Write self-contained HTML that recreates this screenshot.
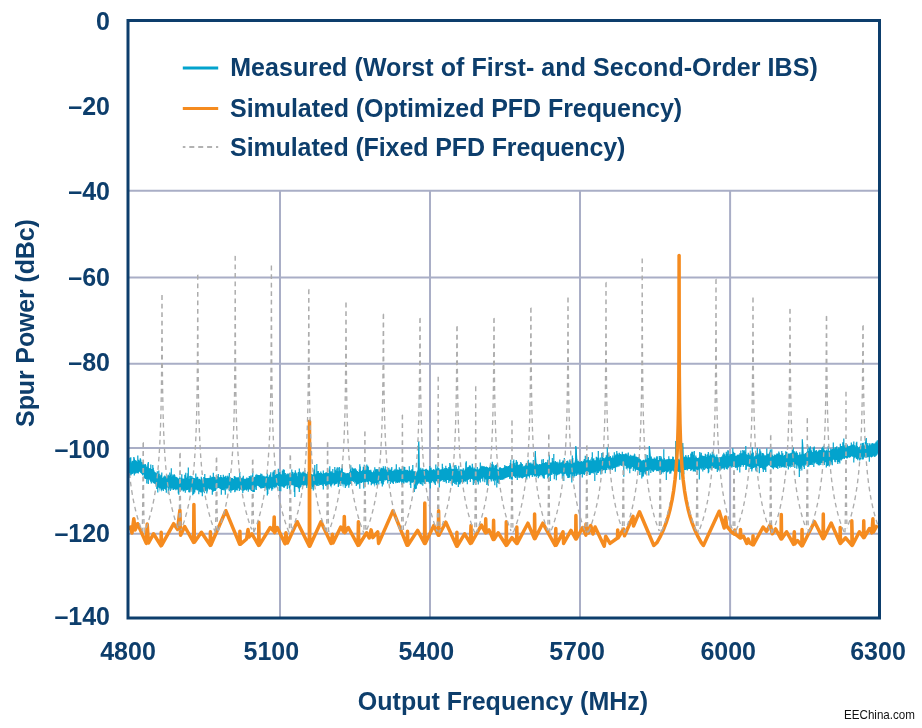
<!DOCTYPE html>
<html><head><meta charset="utf-8">
<style>
html,body{margin:0;padding:0;background:#fff;width:922px;height:728px;overflow:hidden}
svg{display:block;will-change:transform}
text{font-family:"Liberation Sans",sans-serif;font-weight:bold;fill:#0d3e6c}
</style></head><body>
<svg width="922" height="728" viewBox="0 0 922 728">
<g stroke="#a9aec6" stroke-width="2" fill="none">
<path d="M128 190.8H879.5M128 277.6H879.5M128 363.7H879.5M128 447.9H879.5M128 533.8H879.5M280 190.8V618M430 190.8V618M580 190.8V618M730.1 190.8V618"/>
</g>
<defs><clipPath id="gc"><path d="M128 20H670V528H688V20H880V620H128Z"/></clipPath></defs>
<g fill="none" stroke-linejoin="round">
<path d="M129.5 461.9 130.3 462.5 131.1 462.7 131.9 462.4 132.7 462.7 133.5 462.6 134.3 457.0 135.1 460.0 135.9 460.5 136.7 461.7 137.5 461.9 138.3 460.9 139.1 461.4 139.9 461.0 140.7 460.2 141.5 462.6 142.3 462.6 143.1 463.8 143.9 464.3 144.7 464.8 145.5 465.9 146.3 466.9 147.1 467.3 147.9 467.0 148.7 467.9 149.5 469.1 150.3 469.9 151.1 468.9 151.9 470.1 152.7 468.4 153.5 471.7 154.3 471.0 155.1 473.4 155.9 474.1 156.7 474.8 157.5 475.5 158.3 475.8 159.1 476.9 159.9 476.4 160.7 478.0 161.5 478.1 162.3 478.7 163.1 478.5 163.9 478.8 164.7 478.1 165.5 476.0 166.3 477.2 167.1 477.5 167.9 476.2 168.7 477.0 169.5 477.5 170.3 476.3 171.1 477.7 171.9 476.4 172.7 476.1 173.5 477.1 174.3 477.9 175.1 476.9 175.9 478.6 176.7 478.6 177.5 478.2 178.3 478.7 179.1 478.8 179.9 475.4 180.7 478.9 181.5 479.3 182.3 479.1 183.1 478.4 183.9 479.5 184.7 478.4 185.5 477.4 186.3 478.9 187.1 479.6 187.9 479.4 188.7 479.2 189.5 478.8 190.3 478.8 191.1 477.5 191.9 478.1 192.7 478.5 193.5 478.8 194.3 478.9 195.1 479.1 195.9 478.4 196.7 479.5 197.5 478.1 198.3 479.5 199.1 479.6 199.9 479.4 200.7 480.9 201.5 480.3 202.3 481.1 203.1 480.5 203.9 479.5 204.7 480.0 205.5 479.7 206.3 478.4 207.1 478.7 207.9 478.5 208.7 478.5 209.5 478.5 210.3 479.1 211.1 478.6 211.9 477.3 212.7 479.4 213.5 479.6 214.3 478.2 215.1 478.8 215.9 478.6 216.7 478.3 217.5 478.1 218.3 477.6 219.1 477.5 219.9 478.0 220.7 477.2 221.5 477.8 222.3 478.3 223.1 478.1 223.9 477.5 224.7 478.2 225.5 477.9 226.3 478.1 227.1 477.9 227.9 474.5 228.7 477.6 229.5 478.1 230.3 476.9 231.1 479.2 231.9 478.0 232.7 478.0 233.5 479.5 234.3 478.4 235.1 477.7 235.9 477.3 236.7 477.9 237.5 478.4 238.3 478.3 239.1 476.0 239.9 477.6 240.7 475.9 241.5 478.8 242.3 478.5 243.1 480.0 243.9 479.0 244.7 479.6 245.5 479.3 246.3 479.7 247.1 477.8 247.9 479.0 248.7 479.1 249.5 478.9 250.3 479.3 251.1 476.9 251.9 478.6 252.7 478.7 253.5 478.3 254.3 476.7 255.1 477.1 255.9 476.8 256.7 473.6 257.5 475.5 258.3 475.6 259.1 475.0 259.9 475.3 260.7 476.4 261.5 477.0 262.3 473.5 263.1 477.6 263.9 477.5 264.7 475.4 265.5 477.6 266.3 477.7 267.1 476.2 267.9 477.4 268.7 477.1 269.5 477.5 270.3 476.5 271.1 477.7 271.9 476.3 272.7 477.5 273.5 477.2 274.3 477.0 275.1 475.1 275.9 474.8 276.7 474.0 277.5 475.1 278.3 475.0 279.1 473.9 279.9 475.1 280.7 474.3 281.5 475.4 282.3 475.5 283.1 476.0 283.9 474.7 284.7 475.4 285.5 475.5 286.3 474.5 287.1 474.7 287.9 474.8 288.7 473.6 289.5 474.7 290.3 474.3 291.1 474.8 291.9 473.9 292.7 472.8 293.5 474.0 294.3 475.1 295.1 473.9 295.9 475.4 296.7 476.4 297.5 476.7 298.3 476.8 299.1 475.2 299.9 470.2 300.7 474.2 301.5 475.1 302.3 474.0 303.1 472.4 303.9 473.9 304.7 474.5 305.5 474.4 306.3 474.5 307.1 474.7 307.9 474.7 308.7 473.4 309.5 474.3 310.3 474.9 311.1 473.9 311.9 473.9 312.7 475.4 313.5 475.0 314.3 475.1 315.1 474.9 315.9 474.1 316.7 474.3 317.5 473.5 318.3 473.7 319.1 473.4 319.9 473.2 320.7 473.6 321.5 472.7 322.3 473.7 323.1 473.7 323.9 474.1 324.7 473.5 325.5 472.3 326.3 472.5 327.1 474.2 327.9 472.9 328.7 473.2 329.5 472.6 330.3 472.2 331.1 473.2 331.9 473.4 332.7 472.5 333.5 472.7 334.3 473.2 335.1 472.2 335.9 472.6 336.7 471.6 337.5 471.8 338.3 471.9 339.1 472.1 339.9 472.6 340.7 471.3 341.5 472.6 342.3 472.9 343.1 473.0 343.9 472.6 344.7 473.2 345.5 473.7 346.3 473.3 347.1 473.7 347.9 472.7 348.7 474.0 349.5 472.6 350.3 472.0 351.1 471.0 351.9 471.3 352.7 470.4 353.5 470.6 354.3 470.8 355.1 469.9 355.9 471.8 356.7 471.5 357.5 471.1 358.3 472.3 359.1 472.1 359.9 470.5 360.7 471.0 361.5 471.6 362.3 470.4 363.1 471.2 363.9 471.1 364.7 470.4 365.5 469.7 366.3 470.4 367.1 469.6 367.9 469.7 368.7 470.2 369.5 469.7 370.3 471.6 371.1 472.2 371.9 471.9 372.7 472.7 373.5 469.6 374.3 472.4 375.1 471.2 375.9 472.1 376.7 472.4 377.5 471.3 378.3 471.6 379.1 471.0 379.9 468.4 380.7 470.1 381.5 469.7 382.3 469.3 383.1 467.6 383.9 469.6 384.7 469.6 385.5 470.1 386.3 470.2 387.1 469.9 387.9 470.6 388.7 469.5 389.5 470.3 390.3 471.0 391.1 471.0 391.9 471.2 392.7 471.0 393.5 470.4 394.3 468.5 395.1 471.2 395.9 470.0 396.7 470.8 397.5 469.3 398.3 469.9 399.1 470.7 399.9 470.6 400.7 469.9 401.5 471.3 402.3 470.3 403.1 471.3 403.9 469.8 404.7 470.4 405.5 470.8 406.3 470.9 407.1 469.9 407.9 469.7 408.7 471.2 409.5 470.1 410.3 471.2 411.1 471.1 411.9 471.9 412.7 469.4 413.5 471.8 414.3 471.6 415.1 470.9 415.9 472.1 416.7 472.7 417.5 472.9 418.3 441.3 419.1 444.3 419.9 472.1 420.7 470.2 421.5 471.3 422.3 469.8 423.1 470.3 423.9 470.8 424.7 469.3 425.5 469.0 426.3 470.1 427.1 471.2 427.9 471.7 428.7 471.5 429.5 471.2 430.3 470.0 431.1 466.7 431.9 470.8 432.7 470.6 433.5 470.7 434.3 470.1 435.1 470.7 435.9 471.0 436.7 471.0 437.5 469.9 438.3 471.0 439.1 470.3 439.9 470.6 440.7 470.3 441.5 469.9 442.3 469.6 443.1 469.4 443.9 468.5 444.7 469.7 445.5 469.7 446.3 469.6 447.1 469.1 447.9 470.1 448.7 469.6 449.5 469.8 450.3 463.0 451.1 466.0 451.9 470.2 452.7 470.0 453.5 470.2 454.3 469.8 455.1 469.8 455.9 470.8 456.7 469.5 457.5 470.4 458.3 471.4 459.1 471.7 459.9 470.2 460.7 470.5 461.5 471.0 462.3 471.7 463.1 470.9 463.9 470.8 464.7 470.5 465.5 469.4 466.3 469.6 467.1 466.7 467.9 467.8 468.7 468.1 469.5 468.3 470.3 468.5 471.1 467.6 471.9 468.0 472.7 468.7 473.5 468.3 474.3 469.5 475.1 469.3 475.9 469.7 476.7 469.8 477.5 470.3 478.3 470.6 479.1 469.9 479.9 469.3 480.7 468.2 481.5 468.2 482.3 467.6 483.1 466.5 483.9 466.2 484.7 466.8 485.5 468.0 486.3 468.5 487.1 468.2 487.9 468.2 488.7 469.0 489.5 468.3 490.3 466.6 491.1 468.8 491.9 468.7 492.7 468.3 493.5 468.6 494.3 468.7 495.1 469.4 495.9 469.6 496.7 469.9 497.5 469.9 498.3 470.2 499.1 469.2 499.9 469.4 500.7 469.4 501.5 468.7 502.3 468.8 503.1 468.8 503.9 468.0 504.7 466.2 505.5 467.8 506.3 466.3 507.1 466.9 507.9 466.7 508.7 466.3 509.5 465.0 510.3 465.5 511.1 466.3 511.9 463.9 512.7 464.8 513.5 466.2 514.3 464.0 515.1 465.5 515.9 465.8 516.7 463.7 517.5 465.2 518.3 464.5 519.1 465.6 519.9 465.3 520.7 466.1 521.5 467.1 522.3 467.2 523.1 467.5 523.9 466.8 524.7 466.5 525.5 466.1 526.3 464.4 527.1 465.2 527.9 462.8 528.7 462.6 529.5 464.3 530.3 464.6 531.1 464.5 531.9 464.7 532.7 464.6 533.5 462.5 534.3 464.7 535.1 451.0 535.9 454.0 536.7 464.9 537.5 464.1 538.3 464.7 539.1 465.4 539.9 464.8 540.7 464.8 541.5 464.1 542.3 464.6 543.1 464.1 543.9 462.9 544.7 464.1 545.5 464.3 546.3 462.6 547.1 464.0 547.9 464.2 548.7 463.0 549.5 463.8 550.3 463.7 551.1 462.9 551.9 462.5 552.7 462.4 553.5 462.2 554.3 462.6 555.1 462.5 555.9 460.9 556.7 463.1 557.5 463.5 558.3 463.4 559.1 463.8 559.9 463.2 560.7 462.6 561.5 462.8 562.3 462.2 563.1 462.3 563.9 462.9 564.7 463.1 565.5 463.6 566.3 463.5 567.1 464.1 567.9 464.7 568.7 463.3 569.5 462.9 570.3 462.6 571.1 464.1 571.9 462.6 572.7 463.0 573.5 463.5 574.3 463.1 575.1 462.9 575.9 446.0 576.7 449.0 577.5 462.3 578.3 462.2 579.1 461.9 579.9 462.6 580.7 462.6 581.5 462.6 582.3 462.6 583.1 461.4 583.9 461.9 584.7 462.2 585.5 461.2 586.3 460.8 587.1 456.3 587.9 461.1 588.7 460.3 589.5 460.9 590.3 458.5 591.1 462.0 591.9 460.4 592.7 462.2 593.5 461.3 594.3 461.4 595.1 461.1 595.9 461.2 596.7 461.0 597.5 460.6 598.3 460.6 599.1 459.6 599.9 460.5 600.7 459.9 601.5 460.1 602.3 460.4 603.1 460.3 603.9 460.0 604.7 458.6 605.5 458.6 606.3 458.3 607.1 457.7 607.9 457.1 608.7 457.1 609.5 457.3 610.3 456.0 611.1 458.0 611.9 457.7 612.7 458.1 613.5 458.1 614.3 456.8 615.1 455.9 615.9 454.8 616.7 456.0 617.5 454.2 618.3 455.1 619.1 455.3 619.9 453.7 620.7 453.9 621.5 454.8 622.3 454.3 623.1 454.8 623.9 454.7 624.7 454.5 625.5 452.9 626.3 456.1 627.1 455.0 627.9 455.8 628.7 456.8 629.5 456.1 630.3 456.5 631.1 456.7 631.9 455.5 632.7 456.3 633.5 456.1 634.3 452.8 635.1 456.3 635.9 456.7 636.7 456.6 637.5 457.9 638.3 459.7 639.1 459.9 639.9 460.6 640.7 461.0 641.5 460.8 642.3 461.8 643.1 462.3 643.9 460.8 644.7 461.2 645.5 460.4 646.3 459.7 647.1 459.1 647.9 459.1 648.7 459.0 649.5 446.0 650.3 449.0 651.1 458.8 651.9 458.5 652.7 458.9 653.5 459.1 654.3 459.4 655.1 459.6 655.9 459.4 656.7 459.2 657.5 460.4 658.3 460.5 659.1 460.7 659.9 460.7 660.7 461.0 661.5 459.1 662.3 458.4 663.1 460.9 663.9 460.3 664.7 461.0 665.5 460.3 666.3 459.0 667.1 460.6 667.9 460.5 668.7 460.0 669.5 459.5 670.3 460.5 671.1 460.1 671.9 460.4 672.7 457.0 673.5 460.4 674.3 460.3 675.1 460.6 675.9 441.0 676.7 444.0 677.5 460.6 678.3 459.9 679.1 460.0 679.9 460.8 680.7 460.2 681.5 459.5 682.3 443.0 683.1 446.0 683.9 460.0 684.7 459.7 685.5 459.2 686.3 458.7 687.1 458.5 687.9 457.3 688.7 457.1 689.5 458.2 690.3 458.4 691.1 455.9 691.9 457.4 692.7 458.8 693.5 458.1 694.3 458.8 695.1 458.4 695.9 456.8 696.7 458.0 697.5 458.3 698.3 458.5 699.1 458.1 699.9 452.0 700.7 455.0 701.5 457.2 702.3 457.1 703.1 456.7 703.9 455.6 704.7 456.7 705.5 456.8 706.3 457.6 707.1 457.7 707.9 457.3 708.7 457.6 709.5 456.1 710.3 457.3 711.1 457.0 711.9 456.4 712.7 454.8 713.5 456.1 714.3 457.0 715.1 456.4 715.9 457.6 716.7 457.9 717.5 456.7 718.3 458.0 719.1 456.9 719.9 458.0 720.7 457.5 721.5 457.6 722.3 457.0 723.1 456.4 723.9 456.9 724.7 454.8 725.5 456.8 726.3 456.5 727.1 456.1 727.9 456.8 728.7 456.5 729.5 456.1 730.3 455.7 731.1 453.9 731.9 454.0 732.7 455.3 733.5 455.9 734.3 455.8 735.1 456.0 735.9 456.0 736.7 456.6 737.5 456.6 738.3 455.4 739.1 454.9 739.9 455.9 740.7 454.8 741.5 455.0 742.3 453.7 743.1 453.0 743.9 453.7 744.7 454.7 745.5 455.2 746.3 454.8 747.1 454.4 747.9 455.5 748.7 454.5 749.5 454.7 750.3 456.7 751.1 455.0 751.9 457.6 752.7 457.0 753.5 457.4 754.3 457.2 755.1 455.9 755.9 454.5 756.7 455.7 757.5 454.7 758.3 454.4 759.1 455.9 759.9 449.0 760.7 452.0 761.5 455.8 762.3 457.7 763.1 458.5 763.9 457.7 764.7 454.9 765.5 456.3 766.3 455.4 767.1 453.3 767.9 454.2 768.7 454.6 769.5 454.8 770.3 455.5 771.1 454.4 771.9 456.5 772.7 455.4 773.5 456.4 774.3 456.5 775.1 454.6 775.9 456.0 776.7 454.4 777.5 454.4 778.3 454.6 779.1 455.3 779.9 454.8 780.7 455.0 781.5 455.6 782.3 456.1 783.1 456.0 783.9 455.6 784.7 455.0 785.5 454.3 786.3 455.3 787.1 453.8 787.9 455.1 788.7 453.2 789.5 454.0 790.3 453.6 791.1 452.7 791.9 453.2 792.7 451.2 793.5 452.5 794.3 453.3 795.1 453.2 795.9 452.6 796.7 453.5 797.5 455.4 798.3 455.8 799.1 454.9 799.9 455.5 800.7 455.0 801.5 454.3 802.3 439.2 803.1 442.2 803.9 455.0 804.7 454.7 805.5 453.8 806.3 452.4 807.1 453.0 807.9 452.0 808.7 452.6 809.5 452.9 810.3 452.6 811.1 448.5 811.9 452.6 812.7 451.9 813.5 452.2 814.3 451.4 815.1 452.1 815.9 452.3 816.7 451.1 817.5 452.3 818.3 451.1 819.1 449.0 819.9 451.8 820.7 451.2 821.5 451.1 822.3 450.8 823.1 449.1 823.9 450.3 824.7 451.0 825.5 451.6 826.3 450.9 827.1 450.3 827.9 452.2 828.7 451.8 829.5 451.2 830.3 450.9 831.1 450.2 831.9 449.0 832.7 449.3 833.5 449.3 834.3 449.4 835.1 449.6 835.9 448.7 836.7 448.6 837.5 449.5 838.3 449.1 839.1 448.1 839.9 448.5 840.7 448.4 841.5 447.6 842.3 446.7 843.1 447.2 843.9 446.4 844.7 447.0 845.5 446.0 846.3 447.0 847.1 446.5 847.9 446.9 848.7 446.7 849.5 446.6 850.3 445.8 851.1 446.1 851.9 446.1 852.7 444.2 853.5 446.1 854.3 445.5 855.1 446.9 855.9 447.1 856.7 447.8 857.5 447.7 858.3 447.6 859.1 447.7 859.9 445.6 860.7 446.3 861.5 446.5 862.3 445.4 863.1 446.1 863.9 445.6 864.7 446.0 865.5 446.5 866.3 446.2 867.1 446.5 867.9 446.5 868.7 446.6 869.5 443.4 870.3 446.1 871.1 445.6 871.9 442.8 872.7 445.0 873.5 444.9 874.3 443.4 875.1 443.9 875.9 442.3 876.7 443.0 877.5 442.6 877.5 453.1 876.7 456.1 875.9 455.0 875.1 454.0 874.3 454.2 873.5 456.1 872.7 455.5 871.9 457.6 871.1 456.9 870.3 455.3 869.5 456.2 868.7 456.3 867.9 456.9 867.1 456.3 866.3 456.2 865.5 456.1 864.7 455.7 863.9 455.7 863.1 455.6 862.3 455.9 861.5 456.8 860.7 456.7 859.9 461.7 859.1 457.6 858.3 459.0 857.5 458.4 856.7 457.7 855.9 457.0 855.1 457.1 854.3 456.1 853.5 455.6 852.7 456.8 851.9 455.4 851.1 456.8 850.3 456.6 849.5 457.8 848.7 456.8 847.9 457.7 847.1 458.5 846.3 456.9 845.5 456.9 844.7 457.7 843.9 458.3 843.1 457.1 842.3 459.1 841.5 457.9 840.7 458.6 839.9 459.0 839.1 459.5 838.3 459.5 837.5 460.4 836.7 458.9 835.9 459.5 835.1 459.2 834.3 459.2 833.5 459.2 832.7 459.6 831.9 461.6 831.1 460.1 830.3 460.6 829.5 461.1 828.7 462.2 827.9 462.7 827.1 461.7 826.3 461.4 825.5 461.4 824.7 460.8 823.9 460.3 823.1 461.0 822.3 460.7 821.5 461.0 820.7 460.9 819.9 461.6 819.1 465.1 818.3 462.0 817.5 463.3 816.7 461.7 815.9 462.4 815.1 462.4 814.3 462.8 813.5 462.0 812.7 462.0 811.9 462.2 811.1 462.4 810.3 462.7 809.5 463.4 808.7 462.7 807.9 463.4 807.1 463.5 806.3 463.5 805.5 464.3 804.7 464.1 803.9 464.7 803.1 466.1 802.3 465.2 801.5 465.2 800.7 466.9 799.9 466.0 799.1 466.2 798.3 465.9 797.5 464.8 796.7 465.2 795.9 464.1 795.1 463.3 794.3 463.4 793.5 462.2 792.7 463.6 791.9 462.5 791.1 465.5 790.3 468.3 789.5 466.6 788.7 466.6 787.9 465.0 787.1 466.3 786.3 465.8 785.5 465.9 784.7 467.1 783.9 467.8 783.1 466.6 782.3 466.8 781.5 467.7 780.7 465.5 779.9 466.0 779.1 464.6 778.3 464.5 777.5 464.5 776.7 465.0 775.9 466.2 775.1 466.1 774.3 467.0 773.5 466.7 772.7 467.5 771.9 468.3 771.1 466.5 770.3 465.9 769.5 465.7 768.7 464.5 767.9 466.1 767.1 465.6 766.3 465.4 765.5 467.1 764.7 467.2 763.9 467.6 763.1 469.2 762.3 467.6 761.5 467.0 760.7 467.4 759.9 466.7 759.1 466.6 758.3 465.9 757.5 466.0 756.7 465.2 755.9 466.1 755.1 466.8 754.3 467.6 753.5 467.5 752.7 467.9 751.9 467.0 751.1 466.8 750.3 466.5 749.5 467.8 748.7 465.8 747.9 465.4 747.1 465.8 746.3 464.8 745.5 464.5 744.7 464.4 743.9 464.6 743.1 464.3 742.3 464.5 741.5 465.0 740.7 466.0 739.9 465.2 739.1 467.3 738.3 466.1 737.5 466.1 736.7 468.0 735.9 466.4 735.1 466.0 734.3 466.0 733.5 465.5 732.7 465.7 731.9 466.5 731.1 466.3 730.3 465.8 729.5 465.8 728.7 468.6 727.9 466.8 727.1 468.2 726.3 466.6 725.5 467.1 724.7 467.4 723.9 468.0 723.1 466.6 722.3 466.9 721.5 467.3 720.7 467.5 719.9 472.7 719.1 468.0 718.3 468.8 717.5 468.4 716.7 467.4 715.9 468.5 715.1 466.9 714.3 466.5 713.5 466.8 712.7 466.7 711.9 469.7 711.1 466.5 710.3 466.9 709.5 467.0 708.7 467.2 707.9 467.6 707.1 468.2 706.3 467.2 705.5 469.7 704.7 467.1 703.9 466.8 703.1 468.5 702.3 467.2 701.5 467.2 700.7 466.9 699.9 467.7 699.1 469.9 698.3 468.2 697.5 468.9 696.7 468.9 695.9 468.0 695.1 469.1 694.3 469.1 693.5 468.1 692.7 468.2 691.9 469.4 691.1 468.1 690.3 468.1 689.5 468.1 688.7 467.8 687.9 468.2 687.1 468.6 686.3 468.9 685.5 468.7 684.7 469.8 683.9 469.8 683.1 470.2 682.3 472.4 681.5 470.6 680.7 470.2 679.9 470.8 679.1 471.5 678.3 472.1 677.5 470.9 676.7 470.2 675.9 472.0 675.1 470.0 674.3 470.1 673.5 470.1 672.7 470.5 671.9 469.8 671.1 470.0 670.3 470.3 669.5 470.0 668.7 470.4 667.9 472.7 667.1 471.8 666.3 472.5 665.5 470.7 664.7 472.0 663.9 470.9 663.1 474.2 662.3 470.7 661.5 470.9 660.7 470.9 659.9 471.0 659.1 470.8 658.3 470.1 657.5 470.5 656.7 471.5 655.9 470.4 655.1 469.6 654.3 469.2 653.5 471.0 652.7 468.8 651.9 469.1 651.1 468.8 650.3 469.5 649.5 468.9 648.7 469.6 647.9 470.1 647.1 470.5 646.3 469.7 645.5 473.4 644.7 472.1 643.9 471.6 643.1 474.0 642.3 471.9 641.5 471.3 640.7 472.4 639.9 471.1 639.1 469.8 638.3 471.0 637.5 470.0 636.7 468.3 635.9 468.2 635.1 467.9 634.3 468.5 633.5 467.4 632.7 466.9 631.9 466.4 631.1 469.2 630.3 468.4 629.5 466.2 628.7 466.3 627.9 466.4 627.1 471.2 626.3 465.7 625.5 465.6 624.7 465.3 623.9 464.9 623.1 464.5 622.3 466.5 621.5 464.4 620.7 465.1 619.9 464.7 619.1 465.3 618.3 464.9 617.5 467.5 616.7 465.5 615.9 466.6 615.1 467.2 614.3 467.0 613.5 468.8 612.7 467.8 611.9 467.7 611.1 467.7 610.3 471.9 609.5 467.5 608.7 470.3 607.9 467.4 607.1 467.3 606.3 467.7 605.5 468.7 604.7 468.9 603.9 470.2 603.1 470.2 602.3 471.3 601.5 470.4 600.7 470.6 599.9 469.9 599.1 470.8 598.3 470.3 597.5 470.1 596.7 470.8 595.9 471.1 595.1 472.5 594.3 472.0 593.5 471.7 592.7 472.0 591.9 472.9 591.1 471.5 590.3 471.3 589.5 470.8 588.7 471.8 587.9 470.6 587.1 471.0 586.3 471.3 585.5 471.4 584.7 472.3 583.9 473.8 583.1 472.5 582.3 472.4 581.5 472.7 580.7 472.5 579.9 473.0 579.1 472.3 578.3 472.1 577.5 471.9 576.7 472.2 575.9 473.2 575.1 473.2 574.3 472.8 573.5 473.2 572.7 473.1 571.9 473.6 571.1 473.5 570.3 474.2 569.5 474.0 568.7 474.2 567.9 474.4 567.1 473.8 566.3 475.5 565.5 473.4 564.7 473.0 563.9 472.7 563.1 475.8 562.3 473.4 561.5 473.7 560.7 473.0 559.9 473.6 559.1 473.1 558.3 473.1 557.5 474.8 556.7 476.3 555.9 476.3 555.1 473.9 554.3 472.7 553.5 472.4 552.7 472.5 551.9 472.7 551.1 473.9 550.3 475.0 549.5 473.2 548.7 473.7 547.9 474.2 547.1 474.1 546.3 474.5 545.5 473.8 544.7 474.6 543.9 474.7 543.1 474.0 542.3 474.9 541.5 474.9 540.7 475.3 539.9 474.7 539.1 475.3 538.3 475.6 537.5 475.9 536.7 475.2 535.9 475.2 535.1 475.1 534.3 474.9 533.5 474.5 532.7 475.5 531.9 474.5 531.1 475.1 530.3 474.4 529.5 479.0 528.7 475.9 527.9 476.6 527.1 475.0 526.3 475.5 525.5 475.9 524.7 476.2 523.9 476.8 523.1 477.8 522.3 476.8 521.5 477.9 520.7 477.4 519.9 475.8 519.1 478.4 518.3 475.6 517.5 477.6 516.7 475.2 515.9 475.4 515.1 475.6 514.3 475.6 513.5 476.1 512.7 476.9 511.9 475.7 511.1 476.8 510.3 477.1 509.5 477.9 508.7 476.5 507.9 477.3 507.1 477.5 506.3 477.6 505.5 477.4 504.7 478.0 503.9 478.1 503.1 478.4 502.3 478.7 501.5 479.1 500.7 479.0 499.9 480.6 499.1 480.0 498.3 480.5 497.5 481.1 496.7 479.3 495.9 480.0 495.1 479.4 494.3 479.3 493.5 478.8 492.7 478.6 491.9 478.9 491.1 480.0 490.3 478.9 489.5 478.9 488.7 478.7 487.9 478.9 487.1 478.0 486.3 478.0 485.5 477.8 484.7 477.3 483.9 476.9 483.1 476.9 482.3 480.1 481.5 477.5 480.7 480.2 479.9 479.0 479.1 479.9 478.3 480.4 477.5 482.5 476.7 479.8 475.9 479.6 475.1 479.3 474.3 479.2 473.5 479.3 472.7 480.0 471.9 478.4 471.1 478.8 470.3 478.2 469.5 478.9 468.7 479.8 467.9 479.8 467.1 478.7 466.3 479.1 465.5 481.1 464.7 480.9 463.9 480.5 463.1 481.9 462.3 481.1 461.5 481.7 460.7 481.7 459.9 481.3 459.1 481.3 458.3 482.1 457.5 481.3 456.7 481.8 455.9 481.4 455.1 485.1 454.3 480.3 453.5 479.8 452.7 482.3 451.9 479.7 451.1 479.6 450.3 480.1 449.5 479.5 448.7 479.9 447.9 479.4 447.1 479.6 446.3 479.2 445.5 479.3 444.7 479.2 443.9 479.5 443.1 480.3 442.3 479.0 441.5 480.1 440.7 481.0 439.9 482.6 439.1 480.5 438.3 480.7 437.5 482.9 436.7 481.4 435.9 480.6 435.1 480.6 434.3 481.0 433.5 482.8 432.7 480.3 431.9 480.3 431.1 481.0 430.3 480.8 429.5 481.0 428.7 481.3 427.9 481.3 427.1 481.0 426.3 481.6 425.5 482.7 424.7 482.3 423.9 480.4 423.1 480.0 422.3 482.0 421.5 481.5 420.7 481.3 419.9 481.8 419.1 482.1 418.3 482.7 417.5 485.9 416.7 483.8 415.9 484.6 415.1 482.3 414.3 481.9 413.5 481.5 412.7 483.1 411.9 481.2 411.1 481.6 410.3 481.1 409.5 481.5 408.7 481.0 407.9 480.9 407.1 483.3 406.3 482.5 405.5 481.5 404.7 481.2 403.9 481.2 403.1 481.4 402.3 481.2 401.5 481.6 400.7 480.7 399.9 480.8 399.1 481.2 398.3 480.7 397.5 480.6 396.7 480.9 395.9 481.0 395.1 481.8 394.3 480.8 393.5 481.7 392.7 480.9 391.9 482.8 391.1 481.5 390.3 480.7 389.5 480.8 388.7 480.8 387.9 481.0 387.1 480.0 386.3 479.8 385.5 480.0 384.7 479.4 383.9 479.7 383.1 482.3 382.3 480.0 381.5 479.8 380.7 479.9 379.9 480.6 379.1 480.8 378.3 481.6 377.5 482.3 376.7 483.1 375.9 483.4 375.1 482.4 374.3 487.3 373.5 483.0 372.7 483.0 371.9 483.4 371.1 481.8 370.3 481.5 369.5 480.5 368.7 480.2 367.9 480.1 367.1 480.0 366.3 481.4 365.5 482.6 364.7 483.2 363.9 480.9 363.1 481.1 362.3 481.9 361.5 481.8 360.7 481.7 359.9 482.7 359.1 482.4 358.3 484.8 357.5 482.8 356.7 482.1 355.9 482.6 355.1 481.5 354.3 480.5 353.5 480.6 352.7 480.0 351.9 481.0 351.1 481.7 350.3 482.4 349.5 483.7 348.7 484.1 347.9 485.9 347.1 484.1 346.3 484.7 345.5 484.8 344.7 485.4 343.9 483.1 343.1 487.9 342.3 483.6 341.5 482.8 340.7 483.9 339.9 482.7 339.1 482.1 338.3 482.4 337.5 481.6 336.7 481.8 335.9 482.5 335.1 482.5 334.3 484.6 333.5 483.1 332.7 483.4 331.9 484.1 331.1 488.2 330.3 484.1 329.5 484.1 328.7 483.5 327.9 483.7 327.1 483.9 326.3 484.6 325.5 485.6 324.7 483.6 323.9 483.7 323.1 483.9 322.3 483.8 321.5 485.1 320.7 484.9 319.9 484.8 319.1 484.3 318.3 483.1 317.5 485.7 316.7 486.3 315.9 484.6 315.1 485.2 314.3 485.1 313.5 485.1 312.7 485.9 311.9 485.7 311.1 485.0 310.3 484.7 309.5 484.7 308.7 484.5 307.9 485.0 307.1 484.1 306.3 484.5 305.5 483.9 304.7 485.3 303.9 483.9 303.1 484.8 302.3 485.3 301.5 484.9 300.7 484.9 299.9 489.6 299.1 486.4 298.3 488.7 297.5 486.1 296.7 486.2 295.9 486.2 295.1 486.5 294.3 485.0 293.5 485.4 292.7 485.3 291.9 485.3 291.1 484.8 290.3 486.8 289.5 485.5 288.7 485.2 287.9 484.5 287.1 484.9 286.3 485.0 285.5 484.8 284.7 486.5 283.9 487.7 283.1 486.8 282.3 486.5 281.5 485.2 280.7 485.0 279.9 485.3 279.1 485.1 278.3 484.8 277.5 484.7 276.7 488.1 275.9 486.0 275.1 487.3 274.3 486.4 273.5 486.9 272.7 487.6 271.9 487.2 271.1 488.3 270.3 487.5 269.5 487.7 268.7 487.2 267.9 487.7 267.1 487.4 266.3 487.7 265.5 487.9 264.7 487.8 263.9 487.4 263.1 487.9 262.3 487.9 261.5 486.5 260.7 488.7 259.9 487.1 259.1 485.7 258.3 486.1 257.5 485.6 256.7 485.8 255.9 486.2 255.1 487.5 254.3 487.6 253.5 488.8 252.7 490.5 251.9 489.3 251.1 488.7 250.3 489.0 249.5 488.8 248.7 489.2 247.9 489.0 247.1 489.4 246.3 490.9 245.5 489.1 244.7 490.2 243.9 489.4 243.1 489.8 242.3 490.7 241.5 490.2 240.7 489.5 239.9 488.5 239.1 489.0 238.3 487.9 237.5 488.4 236.7 488.0 235.9 492.2 235.1 490.1 234.3 488.8 233.5 489.5 232.7 490.1 231.9 491.3 231.1 490.0 230.3 488.6 229.5 488.3 228.7 487.6 227.9 487.7 227.1 487.5 226.3 488.3 225.5 488.0 224.7 489.0 223.9 487.9 223.1 487.9 222.3 490.0 221.5 488.6 220.7 489.0 219.9 489.0 219.1 487.3 218.3 487.6 217.5 487.4 216.7 487.7 215.9 488.3 215.1 489.2 214.3 489.6 213.5 492.0 212.7 489.0 211.9 488.9 211.1 489.5 210.3 488.5 209.5 489.3 208.7 488.3 207.9 488.2 207.1 491.2 206.3 488.9 205.5 489.5 204.7 493.8 203.9 491.9 203.1 490.7 202.3 490.7 201.5 490.9 200.7 492.6 199.9 490.1 199.1 490.5 198.3 489.5 197.5 489.7 196.7 489.0 195.9 489.1 195.1 490.3 194.3 490.1 193.5 488.2 192.7 488.1 191.9 489.6 191.1 488.3 190.3 489.2 189.5 488.7 188.7 489.2 187.9 489.0 187.1 490.1 186.3 490.6 185.5 489.6 184.7 489.0 183.9 490.5 183.1 489.7 182.3 489.3 181.5 488.8 180.7 490.0 179.9 488.9 179.1 489.4 178.3 489.3 177.5 489.2 176.7 488.5 175.9 488.2 175.1 488.5 174.3 488.1 173.5 487.4 172.7 488.3 171.9 487.3 171.1 488.0 170.3 487.0 169.5 486.8 168.7 488.1 167.9 486.9 167.1 487.9 166.3 487.6 165.5 490.0 164.7 488.7 163.9 488.3 163.1 489.3 162.3 489.5 161.5 491.9 160.7 487.9 159.9 491.9 159.1 487.0 158.3 485.8 157.5 487.0 156.7 484.7 155.9 486.5 155.1 483.2 154.3 483.0 153.5 482.3 152.7 482.2 151.9 480.4 151.1 481.7 150.3 481.2 149.5 479.9 148.7 478.3 147.9 478.4 147.1 477.2 146.3 477.3 145.5 476.0 144.7 477.1 143.9 474.1 143.1 473.1 142.3 476.3 141.5 472.7 140.7 471.8 139.9 471.5 139.1 471.3 138.3 471.5 137.5 473.5 136.7 471.5 135.9 474.1 135.1 472.5 134.3 474.2 133.5 472.2 132.7 473.1 131.9 474.6 131.1 474.4 130.3 474.7 129.5 473.3Z" fill="#03a3cd" stroke="none"/>
<path d="M129.8 457.7V473.5M130.3 463.8V473.8M130.8 457.2V475.4M131.3 462.6V473.0M131.8 463.4V474.0M132.3 461.1V473.4M132.8 460.7V473.8M133.3 463.0V472.6M133.8 457.0V472.0M134.3 462.2V475.4M134.8 460.9V472.3M135.3 461.1V472.2M135.8 460.5V473.4M136.3 460.8V472.0M136.8 462.1V472.6M137.3 462.0V473.1M137.8 455.6V472.0M138.3 461.4V473.6M138.8 459.8V471.7M139.3 460.7V471.4M139.8 460.8V471.6M140.3 458.2V472.2M140.8 459.6V473.1M141.3 462.0V473.2M141.8 462.6V473.8M142.3 462.7V474.0M142.8 462.2V475.0M143.3 463.6V473.8M143.8 464.5V474.3M144.3 464.8V478.2M144.8 465.0V475.4M145.3 463.9V478.9M145.8 465.1V476.0M146.3 466.7V479.0M146.8 466.8V483.5M147.3 466.6V478.7M147.8 463.5V479.6M148.3 462.1V484.1M148.8 468.3V478.5M149.3 468.3V479.0M149.8 468.4V479.1M150.3 468.0V479.6M150.8 464.6V481.8M151.3 470.2V483.4M151.8 468.9V480.6M152.3 471.3V480.9M152.8 465.0V481.7M153.3 467.8V483.2M153.8 470.2V482.4M154.3 472.1V482.9M154.8 472.7V483.9M155.3 472.3V483.5M155.8 472.8V483.4M156.3 473.6V483.7M156.8 473.2V489.0M157.3 471.3V485.0M157.8 474.4V492.6M158.3 474.1V486.4M158.8 470.6V487.4M159.3 473.8V487.7M159.8 476.2V488.0M160.3 476.4V487.7M160.8 474.8V488.1M161.3 477.8V487.6M161.8 472.6V487.9M162.3 478.7V489.3M162.8 478.1V488.4M163.3 477.4V491.1M163.8 476.6V489.1M164.3 478.5V488.5M164.8 475.6V488.5M165.3 476.8V489.5M165.8 477.1V487.6M166.3 477.0V492.7M166.8 477.6V487.1M167.3 477.6V487.0M167.8 475.5V486.9M168.3 474.7V493.8M168.8 476.0V487.1M169.3 477.6V487.4M169.8 472.4V489.4M170.3 476.5V490.9M170.8 474.6V488.0M171.3 468.2V487.3M171.8 477.7V489.5M172.3 477.3V488.3M172.8 474.5V487.2M173.3 475.2V490.1M173.8 476.2V489.7M174.3 474.3V488.8M174.8 475.3V489.0M175.3 477.9V488.4M175.8 476.7V490.2M176.3 477.1V489.6M176.8 478.5V489.4M177.3 477.6V488.7M177.8 479.1V489.6M178.3 478.8V493.4M178.8 478.6V494.7M179.3 479.1V490.8M179.8 477.9V491.5M180.3 479.3V490.9M180.8 479.1V489.0M181.3 477.8V489.7M181.8 474.3V490.4M182.3 479.5V488.9M182.8 478.5V489.4M183.3 478.7V491.6M183.8 479.5V490.5M184.3 479.2V489.3M184.8 474.8V490.8M185.3 479.3V492.7M185.8 472.7V489.0M186.3 478.0V489.1M186.8 479.2V489.2M187.3 476.4V490.1M187.8 473.3V489.6M188.3 467.6V489.4M188.8 479.0V492.2M189.3 479.3V490.3M189.8 476.0V492.6M190.3 475.7V491.5M190.8 478.7V489.5M191.3 478.8V489.7M191.8 476.1V489.3M192.3 478.1V488.4M192.8 477.5V495.3M193.3 477.9V488.4M193.8 477.9V493.9M194.3 478.1V491.9M194.8 478.8V492.5M195.3 479.2V489.2M195.8 473.6V489.5M196.3 479.7V488.9M196.8 477.6V489.8M197.3 476.8V490.5M197.8 477.3V490.1M198.3 479.6V489.9M198.8 479.4V494.3M199.3 478.8V490.9M199.8 479.0V491.8M200.3 479.9V490.6M200.8 480.3V492.3M201.3 476.8V492.6M201.8 478.2V491.9M202.3 480.4V496.2M202.8 480.7V491.5M203.3 479.8V490.8M203.8 477.1V491.5M204.3 479.8V492.5M204.8 474.1V489.7M205.3 479.7V491.0M205.8 477.9V489.2M206.3 479.4V489.0M206.8 478.3V493.5M207.3 478.9V491.6M207.8 478.1V488.4M208.3 478.3V488.3M208.8 478.6V488.2M209.3 477.7V489.4M209.8 478.2V489.5M210.3 475.4V488.9M210.8 479.1V488.6M211.3 478.3V489.5M211.8 476.7V490.0M212.3 477.0V494.7M212.8 477.6V492.1M213.3 472.7V491.1M213.8 477.8V490.8M214.3 476.8V490.2M214.8 476.9V491.0M215.3 477.4V491.1M215.8 478.6V490.3M216.3 478.3V488.5M216.8 476.7V488.5M217.3 476.6V488.3M217.8 476.1V487.8M218.3 473.9V488.0M218.8 477.3V488.1M219.3 477.6V488.0M219.8 477.7V488.3M220.3 477.0V488.6M220.8 475.0V488.6M221.3 477.9V494.7M221.8 477.1V488.6M222.3 478.4V490.0M222.8 478.3V488.6M223.3 474.7V490.2M223.8 478.4V488.2M224.3 476.8V489.4M224.8 476.8V490.6M225.3 476.6V494.7M225.8 475.7V488.1M226.3 478.0V487.6M226.8 477.8V489.4M227.3 476.3V488.6M227.8 477.8V487.3M228.3 477.7V487.8M228.8 476.5V487.6M229.3 473.0V491.3M229.8 478.5V488.3M230.3 478.9V489.9M230.8 477.7V492.8M231.3 478.9V490.2M231.8 477.9V489.0M232.3 479.3V489.0M232.8 478.9V489.4M233.3 479.7V490.0M233.8 479.3V489.1M234.3 476.2V489.6M234.8 476.0V492.2M235.3 478.1V490.0M235.8 477.3V490.1M236.3 477.8V488.8M236.8 477.5V490.1M237.3 478.1V490.4M237.8 477.3V487.7M238.3 478.4V488.3M238.8 478.6V487.8M239.3 476.9V490.9M239.8 471.9V488.2M240.3 477.7V489.6M240.8 478.9V488.8M241.3 478.4V489.7M241.8 478.3V489.1M242.3 479.4V489.4M242.8 477.3V493.0M243.3 475.7V490.3M243.8 479.1V490.8M244.3 478.7V489.8M244.8 478.7V489.2M245.3 479.2V489.5M245.8 478.8V489.1M246.3 479.4V490.2M246.8 477.6V489.0M247.3 479.7V489.4M247.8 479.7V489.3M248.3 477.9V491.7M248.8 478.9V490.1M249.3 475.9V489.1M249.8 477.4V488.9M250.3 476.9V489.3M250.8 475.6V490.0M251.3 478.7V490.9M251.8 476.8V488.4M252.3 475.3V491.2M252.8 471.1V491.8M253.3 478.7V492.1M253.8 478.3V489.4M254.3 477.8V492.0M254.8 476.9V487.0M255.3 476.8V486.7M255.8 474.8V489.5M256.3 476.5V490.0M256.8 475.9V485.7M257.3 474.8V485.3M257.8 475.2V485.0M258.3 474.9V485.5M258.8 475.4V485.9M259.3 475.8V487.2M259.8 475.9V487.2M260.3 475.1V486.1M260.8 473.5V488.2M261.3 474.0V487.2M261.8 477.0V488.4M262.3 477.0V487.0M262.8 476.2V487.6M263.3 475.8V487.9M263.8 476.8V487.1M264.3 477.6V487.6M264.8 477.9V487.7M265.3 477.7V488.1M265.8 476.5V487.3M266.3 476.2V487.3M266.8 477.1V489.8M267.3 473.5V495.5M267.8 477.6V493.9M268.3 477.2V488.6M268.8 476.8V487.2M269.3 475.3V489.4M269.8 475.9V487.9M270.3 474.3V487.5M270.8 472.3V487.3M271.3 477.2V488.7M271.8 477.2V490.7M272.3 477.2V487.7M272.8 472.5V489.3M273.3 471.6V487.3M273.8 476.3V487.0M274.3 470.1V486.5M274.8 475.7V488.3M275.3 475.6V487.3M275.8 474.5V485.5M276.3 475.2V486.1M276.8 474.1V485.1M277.3 475.1V484.7M277.8 473.9V484.6M278.3 468.7V486.1M278.8 473.9V484.8M279.3 473.1V491.1M279.8 471.9V486.2M280.3 474.9V485.4M280.8 474.2V491.2M281.3 475.1V485.4M281.8 474.5V486.5M282.3 470.5V486.6M282.8 475.8V485.8M283.3 469.3V485.8M283.8 474.0V487.5M284.3 469.7V487.7M284.8 475.3V485.4M285.3 473.0V486.2M285.8 474.9V485.5M286.3 475.1V485.5M286.8 474.3V485.1M287.3 473.6V489.0M287.8 475.0V484.9M288.3 474.7V484.5M288.8 475.0V485.4M289.3 473.1V487.9M289.8 474.6V489.7M290.3 473.2V485.9M290.8 474.1V484.5M291.3 474.3V484.3M291.8 469.4V484.8M292.3 474.7V484.7M292.8 472.0V485.0M293.3 474.7V485.1M293.8 474.8V485.3M294.3 472.7V492.0M294.8 473.9V497.1M295.3 470.2V485.4M295.8 472.2V486.8M296.3 475.6V486.9M296.8 473.2V486.3M297.3 476.5V487.0M297.8 476.3V486.6M298.3 471.9V488.2M298.8 474.8V486.5M299.3 468.5V492.0M299.8 475.6V485.9M300.3 473.4V487.6M300.8 472.3V487.0M301.3 473.4V485.6M301.8 473.2V484.9M302.3 474.0V484.7M302.8 472.1V484.2M303.3 471.4V485.1M303.8 473.1V486.1M304.3 472.7V485.0M304.8 470.1V485.1M305.3 474.4V484.0M305.8 473.2V484.7M306.3 473.9V486.0M306.8 474.5V488.1M307.3 474.2V484.4M307.8 471.8V484.6M308.3 474.7V486.3M308.8 473.5V488.8M309.3 473.6V484.6M309.8 474.6V484.9M310.3 475.2V495.3M310.8 474.1V484.9M311.3 474.1V485.5M311.8 475.5V489.0M312.3 474.5V486.6M312.8 474.8V487.2M313.3 474.9V490.5M313.8 469.5V485.1M314.3 471.4V486.2M314.8 465.1V484.7M315.3 474.8V484.4M315.8 474.7V484.1M316.3 473.5V485.3M316.8 463.9V483.8M317.3 471.2V485.8M317.8 472.4V483.6M318.3 471.1V483.2M318.8 472.7V485.9M319.3 472.9V485.0M319.8 473.7V483.4M320.3 473.8V483.7M320.8 471.6V484.5M321.3 473.4V484.0M321.8 474.0V483.5M322.3 474.0V484.4M322.8 474.1V485.9M323.3 470.6V489.5M323.8 473.2V484.4M324.3 473.3V484.2M324.8 473.3V484.0M325.3 473.4V483.5M325.8 474.1V486.0M326.3 473.2V483.4M326.8 472.1V485.6M327.3 472.7V487.0M327.8 473.7V488.8M328.3 474.2V484.1M328.8 473.4V484.6M329.3 469.6V483.9M329.8 466.3V484.3M330.3 472.6V484.5M330.8 471.5V486.2M331.3 471.3V484.5M331.8 473.7V484.9M332.3 472.4V483.4M332.8 469.1V483.5M333.3 473.1V483.2M333.8 472.9V483.3M334.3 472.9V485.5M334.8 467.1V484.8M335.3 469.8V482.9M335.8 472.2V484.1M336.3 470.7V482.5M336.8 468.4V483.7M337.3 467.3V482.4M337.8 472.1V482.1M338.3 471.2V487.1M338.8 467.8V485.7M339.3 466.9V481.7M339.8 472.3V484.0M340.3 470.5V483.1M340.8 472.8V486.0M341.3 467.9V482.8M341.8 470.7V483.6M342.3 464.5V482.7M342.8 473.1V483.7M343.3 472.0V483.6M343.8 473.3V483.8M344.3 472.6V483.2M344.8 472.5V484.1M345.3 473.7V487.9M345.8 473.6V483.7M346.3 474.3V486.2M346.8 474.1V483.8M347.3 473.0V483.8M347.8 474.3V484.7M348.3 474.4V484.8M348.8 472.9V487.8M349.3 472.8V485.3M349.8 472.1V483.8M350.3 469.4V483.9M350.8 465.2V482.4M351.3 471.2V483.3M351.8 471.0V481.0M352.3 467.4V481.1M352.8 470.5V480.0M353.3 468.4V482.0M353.8 470.1V480.2M354.3 468.5V480.5M354.8 471.0V483.6M355.3 468.2V482.1M355.8 471.6V481.9M356.3 469.6V486.1M356.8 472.1V482.0M357.3 470.9V484.6M357.8 472.2V482.8M358.3 472.0V483.7M358.8 471.9V483.0M359.3 469.6V482.4M359.8 464.2V488.7M360.3 466.6V482.1M360.8 471.8V482.5M361.3 471.6V482.9M361.8 470.9V482.7M362.3 470.6V481.9M362.8 469.8V481.3M363.3 466.7V481.7M363.8 470.6V488.6M364.3 464.7V480.7M364.8 468.8V481.7M365.3 469.5V482.1M365.8 469.7V482.3M366.3 470.1V480.3M366.8 464.6V480.2M367.3 469.9V482.1M367.8 465.8V481.6M368.3 466.9V484.6M368.8 470.4V481.0M369.3 470.4V480.6M369.8 470.5V481.2M370.3 471.4V482.1M370.8 469.7V481.7M371.3 471.4V485.2M371.8 471.9V484.0M372.3 472.9V482.4M372.8 473.3V483.5M373.3 472.5V483.1M373.8 472.6V483.6M374.3 472.9V482.4M374.8 467.2V482.8M375.3 469.9V482.9M375.8 469.3V482.2M376.3 471.3V485.3M376.8 468.9V483.9M377.3 472.1V483.5M377.8 469.3V481.3M378.3 470.7V481.7M378.8 470.8V484.6M379.3 466.9V480.6M379.8 470.9V480.5M380.3 470.7V481.0M380.8 468.4V480.9M381.3 467.7V483.5M381.8 469.1V481.5M382.3 468.6V486.5M382.8 468.3V481.7M383.3 466.3V484.4M383.8 468.2V481.9M384.3 469.7V480.3M384.8 469.6V480.3M385.3 466.3V480.4M385.8 468.9V479.9M386.3 469.7V479.8M386.8 470.6V480.1M387.3 470.8V480.4M387.8 471.0V483.5M388.3 469.9V481.2M388.8 467.7V481.0M389.3 469.5V480.7M389.8 471.0V480.8M390.3 469.7V483.9M390.8 471.4V480.9M391.3 468.5V481.1M391.8 467.1V481.3M392.3 471.5V482.4M392.8 471.3V482.9M393.3 471.7V484.0M393.8 471.5V482.1M394.3 470.8V481.2M394.8 470.5V480.9M395.3 471.0V480.5M395.8 468.7V483.2M396.3 464.2V482.1M396.8 470.9V480.6M397.3 470.3V482.9M397.8 469.8V482.4M398.3 470.8V482.2M398.8 470.3V481.3M399.3 467.3V482.8M399.8 470.3V482.0M400.3 469.5V480.7M400.8 468.8V480.9M401.3 470.0V481.7M401.8 468.8V484.7M402.3 471.3V481.1M402.8 471.9V482.0M403.3 471.9V483.1M403.8 466.4V483.7M404.3 471.6V481.1M404.8 466.9V481.0M405.3 470.9V482.5M405.8 470.1V481.2M406.3 469.7V481.5M406.8 471.2V481.4M407.3 470.7V480.6M407.8 470.9V482.3M408.3 471.1V480.5M408.8 470.9V480.9M409.3 466.2V481.3M409.8 470.3V481.2M410.3 470.5V485.1M410.8 470.5V488.1M411.3 471.4V482.8M411.8 469.2V482.7M412.3 471.2V481.3M412.8 465.0V482.4M413.3 471.2V482.1M413.8 471.6V481.6M414.3 472.0V491.9M414.8 471.6V481.8M415.3 472.7V489.2M415.8 472.6V482.2M416.3 472.6V488.7M416.8 472.6V484.1M417.3 471.6V482.5M417.8 470.6V483.8M418.3 472.8V483.2M418.8 441.3V483.6M419.3 471.5V481.8M419.8 469.4V482.5M420.3 471.9V484.1M420.8 467.8V481.0M421.3 469.7V484.6M421.8 469.4V482.1M422.3 470.2V480.2M422.8 468.2V485.8M423.3 469.6V482.2M423.8 470.3V482.6M424.3 470.9V482.6M424.8 470.2V483.9M425.3 470.3V483.1M425.8 470.3V481.2M426.3 468.7V481.7M426.8 471.0V481.7M427.3 469.7V481.5M427.8 470.3V481.7M428.3 471.1V481.6M428.8 471.2V482.0M429.3 469.5V483.5M429.8 465.9V481.6M430.3 468.4V488.4M430.8 468.1V483.0M431.3 470.4V481.0M431.8 470.2V482.6M432.3 470.6V480.4M432.8 469.7V481.1M433.3 470.7V480.5M433.8 468.9V481.4M434.3 470.3V483.5M434.8 470.9V481.0M435.3 470.6V484.9M435.8 464.4V481.1M436.3 468.4V480.6M436.8 470.1V480.9M437.3 468.5V481.3M437.8 466.3V481.8M438.3 471.0V481.0M438.8 468.1V480.8M439.3 470.4V487.5M439.8 469.5V480.5M440.3 470.2V480.8M440.8 469.6V480.2M441.3 469.2V480.8M441.8 469.4V479.9M442.3 463.8V479.9M442.8 467.2V478.9M443.3 469.4V481.7M443.8 469.5V479.2M444.3 469.7V479.9M444.8 467.9V482.0M445.3 469.4V480.9M445.8 465.8V480.3M446.3 468.4V483.2M446.8 468.0V479.3M447.3 469.8V480.0M447.8 468.7V480.1M448.3 470.1V479.7M448.8 467.0V483.0M449.3 468.7V481.6M449.8 463.0V480.5M450.3 470.0V480.9M450.8 468.9V480.6M451.3 469.1V482.8M451.8 469.2V484.3M452.3 469.8V485.7M452.8 468.7V481.1M453.3 469.0V482.9M453.8 469.3V481.8M454.3 465.3V480.0M454.8 468.7V483.9M455.3 468.7V480.5M455.8 464.9V481.5M456.3 466.7V484.7M456.8 469.8V481.1M457.3 468.8V481.7M457.8 471.5V481.5M458.3 471.2V486.9M458.8 465.8V482.0M459.3 471.5V483.9M459.8 471.4V484.5M460.3 469.3V483.4M460.8 469.9V482.4M461.3 471.5V482.1M461.8 469.3V481.3M462.3 469.9V481.4M462.8 471.3V482.0M463.3 468.2V481.8M463.8 470.9V482.6M464.3 470.7V480.8M464.8 470.4V480.4M465.3 468.8V481.5M465.8 462.4V481.8M466.3 461.2V479.8M466.8 469.3V480.6M467.3 468.9V484.2M467.8 467.9V479.9M468.3 466.9V478.6M468.8 467.7V478.8M469.3 465.8V478.1M469.8 465.2V478.5M470.3 465.7V482.1M470.8 467.3V478.2M471.3 468.9V478.5M471.8 468.7V479.1M472.3 463.7V478.5M472.8 466.7V478.5M473.3 468.7V485.0M473.8 468.7V478.6M474.3 469.2V480.9M474.8 467.5V483.3M475.3 469.4V479.1M475.8 468.8V484.8M476.3 469.7V480.1M476.8 470.1V481.1M477.3 467.0V479.9M477.8 469.7V481.5M478.3 469.9V484.5M478.8 469.3V480.3M479.3 468.6V479.5M479.8 469.1V481.3M480.3 462.6V482.4M480.8 468.6V478.9M481.3 466.8V478.6M481.8 465.8V477.7M482.3 466.3V477.3M482.8 466.3V481.4M483.3 467.2V476.9M483.8 467.5V477.2M484.3 466.4V478.4M484.8 467.8V482.3M485.3 467.0V477.6M485.8 468.0V479.6M486.3 466.4V479.0M486.8 468.1V485.1M487.3 466.9V484.3M487.8 468.9V480.3M488.3 468.0V485.7M488.8 468.3V478.8M489.3 467.0V479.0M489.8 467.2V478.6M490.3 465.4V479.2M490.8 467.6V478.6M491.3 468.8V481.6M491.8 464.0V478.5M492.3 461.7V478.5M492.8 464.6V479.6M493.3 464.4V481.3M493.8 468.8V478.7M494.3 467.7V480.1M494.8 466.1V485.3M495.3 465.1V480.8M495.8 465.6V479.1M496.3 469.7V479.2M496.8 464.2V487.6M497.3 469.1V483.1M497.8 470.1V482.3M498.3 469.9V480.7M498.8 469.4V483.8M499.3 467.5V479.3M499.8 467.6V479.4M500.3 467.2V480.1M500.8 468.9V479.3M501.3 468.1V479.3M501.8 468.9V480.0M502.3 469.1V479.7M502.8 467.9V479.2M503.3 468.6V478.4M503.8 468.0V479.5M504.3 467.0V478.6M504.8 465.1V477.6M505.3 467.1V478.2M505.8 466.2V477.8M506.3 466.1V477.4M506.8 467.3V476.7M507.3 467.2V476.7M507.8 466.3V476.4M508.3 465.9V476.3M508.8 466.5V477.1M509.3 466.5V476.1M509.8 465.8V479.0M510.3 462.9V477.6M510.8 459.7V477.2M511.3 466.4V479.6M511.8 464.4V476.5M512.3 463.9V479.8M512.8 465.9V475.9M513.3 461.1V475.7M513.8 459.4V475.4M514.3 462.9V476.2M514.8 466.0V477.1M515.3 465.5V477.7M515.8 462.5V478.0M516.3 460.1V476.4M516.8 465.4V476.0M517.3 461.8V480.1M517.8 465.7V475.5M518.3 465.9V475.5M518.8 465.3V477.8M519.3 465.2V477.1M519.8 464.2V477.8M520.3 466.4V476.6M520.8 461.9V476.1M521.3 462.9V477.4M521.8 464.3V477.7M522.3 464.0V478.4M522.8 466.9V477.7M523.3 467.4V477.3M523.8 465.8V476.8M524.3 466.8V477.1M524.8 466.4V476.8M525.3 465.4V476.2M525.8 464.5V476.7M526.3 463.1V478.2M526.8 464.8V479.6M527.3 463.6V475.7M527.8 461.0V476.3M528.3 459.8V474.3M528.8 463.0V474.6M529.3 462.8V475.3M529.8 463.7V474.3M530.3 463.4V474.3M530.8 462.6V475.3M531.3 463.5V475.0M531.8 464.6V474.8M532.3 464.7V476.9M532.8 463.6V475.2M533.3 459.9V474.7M533.8 463.5V474.9M534.3 465.0V476.6M534.8 462.4V476.2M535.3 451.0V474.9M535.8 463.5V475.7M536.3 463.6V477.3M536.8 463.7V474.6M537.3 465.5V475.1M537.8 465.5V475.5M538.3 464.7V478.2M538.8 465.0V476.2M539.3 464.3V474.8M539.8 463.9V476.6M540.3 465.1V474.6M540.8 464.8V474.7M541.3 463.9V474.4M541.8 459.4V475.2M542.3 464.5V476.4M542.8 463.0V476.3M543.3 459.1V478.3M543.8 464.3V474.6M544.3 463.1V478.8M544.8 463.9V474.9M545.3 462.6V474.7M545.8 461.9V474.6M546.3 464.3V474.0M546.8 462.5V474.3M547.3 463.9V474.1M547.8 459.7V478.4M548.3 464.3V477.2M548.8 463.2V474.2M549.3 454.8V475.7M549.8 463.9V473.3M550.3 462.6V480.9M550.8 463.1V474.6M551.3 462.5V473.0M551.8 463.1V474.9M552.3 458.0V472.6M552.8 462.8V472.5M553.3 461.3V474.0M553.8 454.0V473.5M554.3 462.8V479.3M554.8 462.7V473.2M555.3 461.1V473.6M555.8 463.5V473.1M556.3 461.9V480.2M556.8 463.2V475.2M557.3 463.3V474.4M557.8 461.8V474.7M558.3 463.8V473.8M558.8 463.7V474.5M559.3 462.5V474.2M559.8 459.6V473.5M560.3 463.3V473.5M560.8 462.7V472.9M561.3 463.4V473.0M561.8 462.3V473.2M562.3 462.5V478.7M562.8 460.6V473.1M563.3 460.4V473.6M563.8 462.0V481.0M564.3 458.0V473.9M564.8 462.3V473.8M565.3 463.3V473.2M565.8 463.1V473.2M566.3 463.1V473.6M566.8 461.1V475.5M567.3 461.9V476.3M567.8 460.5V478.1M568.3 462.2V474.5M568.8 464.4V478.0M569.3 463.8V474.4M569.8 459.5V477.5M570.3 460.7V474.3M570.8 464.2V474.2M571.3 463.3V473.9M571.8 462.4V482.6M572.3 455.4V478.2M572.8 458.1V474.2M573.3 463.4V473.0M573.8 462.7V477.7M574.3 462.5V474.4M574.8 463.1V476.2M575.3 460.6V472.6M575.8 446.0V473.5M576.3 461.8V475.9M576.8 459.0V473.0M577.3 461.9V474.8M577.8 461.2V472.7M578.3 460.7V473.2M578.8 462.1V474.5M579.3 462.1V474.7M579.8 461.8V472.7M580.3 462.0V474.8M580.8 462.6V473.1M581.3 461.0V473.9M581.8 462.5V472.5M582.3 461.7V477.4M582.8 462.8V473.3M583.3 460.8V474.0M583.8 460.8V474.3M584.3 459.0V475.1M584.8 461.1V473.9M585.3 455.8V471.4M585.8 461.8V471.2M586.3 460.5V472.3M586.8 460.6V471.7M587.3 460.5V474.1M587.8 460.0V470.8M588.3 457.1V471.2M588.8 459.9V472.2M589.3 460.7V475.1M589.8 460.6V472.1M590.3 460.8V474.7M590.8 461.9V471.2M591.3 461.0V473.3M591.8 457.3V472.5M592.3 452.3V472.2M592.8 459.1V473.0M593.3 461.4V473.4M593.8 458.3V471.7M594.3 461.0V472.0M594.8 460.2V481.0M595.3 460.3V472.4M595.8 461.1V470.7M596.3 456.7V471.3M596.8 459.3V475.1M597.3 457.5V472.9M597.8 460.4V470.1M598.3 450.9V473.1M598.8 458.2V470.6M599.3 460.4V471.5M599.8 460.5V470.4M600.3 457.4V470.5M600.8 460.1V474.6M601.3 460.4V473.0M601.8 453.1V473.8M602.3 460.1V470.9M602.8 452.4V470.0M603.3 457.9V469.7M603.8 458.3V469.9M604.3 458.6V469.7M604.8 459.0V469.8M605.3 457.4V473.2M605.8 457.3V470.2M606.3 455.2V469.9M606.8 457.7V470.1M607.3 447.3V468.2M607.8 455.7V467.0M608.3 453.6V467.2M608.8 455.0V467.2M609.3 456.2V468.1M609.8 456.7V469.9M610.3 456.1V469.1M610.8 458.0V467.7M611.3 458.2V467.8M611.8 457.8V469.2M612.3 457.5V469.9M612.8 455.5V468.3M613.3 458.1V467.8M613.8 457.8V467.4M614.3 452.2V468.0M614.8 455.9V467.0M615.3 456.1V471.8M615.8 454.5V466.3M616.3 455.1V467.3M616.8 450.9V466.4M617.3 455.7V465.3M617.8 453.4V465.6M618.3 455.4V465.5M618.8 455.4V466.8M619.3 452.8V465.8M619.8 455.1V465.3M620.3 454.5V465.3M620.8 454.7V464.4M621.3 454.8V465.9M621.8 454.6V465.1M622.3 451.8V465.1M622.8 453.9V464.6M623.3 454.4V465.6M623.8 454.3V476.7M624.3 454.8V464.7M624.8 455.2V465.6M625.3 453.8V465.1M625.8 454.6V466.0M626.3 455.1V468.7M626.8 453.6V466.6M627.3 456.4V465.8M627.8 455.6V467.9M628.3 452.5V466.2M628.8 456.5V467.4M629.3 456.9V468.9M629.8 456.7V473.2M630.3 454.8V467.4M630.8 456.9V468.5M631.3 456.9V467.6M631.8 455.4V466.8M632.3 457.1V466.7M632.8 457.0V466.8M633.3 455.7V470.9M633.8 456.3V468.0M634.3 457.8V467.3M634.8 454.2V469.2M635.3 458.0V471.6M635.8 457.6V469.1M636.3 457.6V469.8M636.8 458.8V469.1M637.3 458.1V469.9M637.8 457.1V469.7M638.3 456.9V469.8M638.8 459.9V470.0M639.3 457.8V471.0M639.8 460.1V475.1M640.3 459.3V471.2M640.8 460.2V471.9M641.3 461.5V471.2M641.8 461.5V478.6M642.3 460.6V476.8M642.8 462.2V472.2M643.3 460.0V476.4M643.8 459.7V473.4M644.3 460.9V472.0M644.8 460.6V471.3M645.3 459.6V474.5M645.8 454.2V470.6M646.3 460.2V471.2M646.8 459.9V470.2M647.3 454.9V471.1M647.8 458.1V469.7M648.3 458.6V468.7M648.8 458.1V475.5M649.3 446.0V470.5M649.8 459.0V468.9M650.3 458.8V468.8M650.8 459.1V473.0M651.3 456.5V469.6M651.8 459.3V470.5M652.3 458.8V470.5M652.8 458.9V471.2M653.3 458.8V471.9M653.8 459.5V469.9M654.3 457.4V470.4M654.8 459.0V469.4M655.3 459.5V469.3M655.8 458.5V469.6M656.3 457.6V469.6M656.8 456.2V470.1M657.3 456.4V471.0M657.8 460.4V470.1M658.3 460.3V471.3M658.8 460.1V470.3M659.3 456.0V470.2M659.8 459.7V473.3M660.3 458.3V472.8M660.8 455.9V470.7M661.3 457.3V474.2M661.8 459.0V470.9M662.3 460.9V472.3M662.8 460.7V471.9M663.3 459.8V471.6M663.8 449.2V471.1M664.3 458.1V471.9M664.8 459.5V470.9M665.3 459.4V470.4M665.8 459.7V470.9M666.3 459.7V479.9M666.8 460.6V472.2M667.3 459.3V470.4M667.8 460.6V471.0M668.3 459.0V471.4M668.8 456.2V470.3M669.3 460.3V469.9M669.8 458.7V473.7M670.3 459.4V471.1M670.8 460.1V473.6M671.3 458.9V471.5M671.8 460.3V470.9M672.3 459.3V470.0M672.8 456.6V469.6M673.3 457.1V470.7M673.8 459.8V471.5M674.3 459.5V471.7M674.8 459.4V470.5M675.3 460.7V474.0M675.8 441.0V475.9M676.3 458.6V473.8M676.8 460.1V470.5M677.3 460.9V471.2M677.8 458.7V470.6M678.3 459.1V470.9M678.8 460.1V471.8M679.3 459.5V470.7M679.8 459.8V479.7M680.3 458.2V470.8M680.8 458.8V472.4M681.3 460.7V470.7M681.8 459.0V470.5M682.3 460.3V472.7M682.8 443.0V470.2M683.3 459.0V471.0M683.8 457.7V474.3M684.3 456.8V470.1M684.8 458.9V470.0M685.3 456.5V470.1M685.8 455.1V470.0M686.3 458.2V468.6M686.8 456.5V469.3M687.3 458.2V470.5M687.8 458.1V469.3M688.3 454.9V468.7M688.8 456.9V469.1M689.3 457.4V467.7M689.8 457.6V468.9M690.3 458.4V468.7M690.8 453.6V471.0M691.3 458.2V467.8M691.8 451.8V469.9M692.3 458.1V469.1M692.8 451.8V468.3M693.3 454.8V471.4M693.8 458.7V469.4M694.3 451.1V471.3M694.8 458.3V469.8M695.3 457.8V471.8M695.8 455.5V469.1M696.3 457.2V469.1M696.8 458.6V470.0M697.3 458.1V470.2M697.8 458.5V470.4M698.3 458.5V468.6M698.8 457.4V469.5M699.3 457.6V479.6M699.8 452.0V468.5M700.3 456.9V468.5M700.8 457.4V468.4M701.3 452.8V469.4M701.8 457.0V467.7M702.3 455.6V466.8M702.8 456.3V471.4M703.3 456.7V469.4M703.8 456.1V467.2M704.3 456.4V470.0M704.8 457.4V466.7M705.3 453.7V466.8M705.8 454.6V467.0M706.3 457.2V467.9M706.8 457.0V467.7M707.3 455.2V468.9M707.8 454.1V467.5M708.3 452.1V473.2M708.8 456.9V472.2M709.3 455.6V467.7M709.8 455.5V468.4M710.3 453.5V468.3M710.8 456.5V467.1M711.3 455.3V470.1M711.8 454.7V466.6M712.3 451.7V466.2M712.8 456.1V466.9M713.3 455.5V468.1M713.8 453.5V466.3M714.3 456.0V467.2M714.8 455.5V468.5M715.3 457.1V466.8M715.8 457.1V468.9M716.3 457.8V468.2M716.8 454.5V468.6M717.3 458.1V471.9M717.8 457.7V469.4M718.3 457.7V467.8M718.8 457.8V470.4M719.3 458.2V469.6M719.8 457.3V467.7M720.3 457.3V467.8M720.8 457.6V470.1M721.3 457.1V467.0M721.8 456.5V468.7M722.3 456.7V467.2M722.8 454.5V468.4M723.3 457.1V468.3M723.8 452.7V466.6M724.3 455.9V469.8M724.8 454.3V467.4M725.3 455.7V467.1M725.8 456.2V467.6M726.3 451.7V468.9M726.8 453.7V468.1M727.3 453.7V469.6M727.8 450.2V466.1M728.3 450.6V467.2M728.8 456.3V466.2M729.3 456.1V466.2M729.8 454.2V466.2M730.3 454.2V465.5M730.8 456.0V466.2M731.3 454.6V466.4M731.8 454.1V467.8M732.3 455.8V466.3M732.8 448.2V465.5M733.3 451.8V467.1M733.8 452.4V467.0M734.3 455.8V465.8M734.8 452.9V466.2M735.3 455.7V467.2M735.8 456.3V468.0M736.3 455.7V465.8M736.8 456.3V465.9M737.3 454.8V470.2M737.8 455.9V467.6M738.3 454.5V467.0M738.8 455.8V466.1M739.3 455.1V465.6M739.8 453.2V472.4M740.3 454.9V465.1M740.8 450.4V467.0M741.3 454.4V465.3M741.8 453.2V465.0M742.3 454.6V464.5M742.8 450.1V464.9M743.3 451.6V466.7M743.8 450.9V464.8M744.3 450.2V465.1M744.8 453.3V464.8M745.3 451.7V464.8M745.8 446.0V470.0M746.3 454.3V469.5M746.8 455.3V464.8M747.3 454.8V466.2M747.8 455.5V465.3M748.3 452.8V466.8M748.8 455.2V465.9M749.3 455.6V465.7M749.8 454.4V467.0M750.3 453.8V466.6M750.8 453.2V469.1M751.3 453.7V466.9M751.8 456.3V471.4M752.3 447.6V469.2M752.8 456.4V467.3M753.3 452.5V468.0M753.8 457.4V468.0M754.3 457.0V466.9M754.8 456.2V466.9M755.3 455.7V467.1M755.8 454.4V470.5M756.3 453.1V471.5M756.8 455.0V469.0M757.3 448.0V465.5M757.8 455.0V464.6M758.3 455.3V465.4M758.8 453.4V466.3M759.3 454.2V473.3M759.8 449.0V467.4M760.3 456.4V468.0M760.8 451.6V468.1M761.3 457.4V467.2M761.8 455.7V467.8M762.3 453.1V467.8M762.8 458.3V469.3M763.3 453.2V472.0M763.8 454.6V468.9M764.3 456.3V467.4M764.8 456.7V470.0M765.3 455.3V468.4M765.8 456.3V471.9M766.3 455.9V466.6M766.8 448.4V466.8M767.3 454.4V465.2M767.8 454.9V465.5M768.3 454.4V464.4M768.8 453.9V464.8M769.3 453.0V464.9M769.8 451.7V465.0M770.3 449.4V465.4M770.8 456.3V467.0M771.3 456.1V466.5M771.8 449.2V467.1M772.3 454.8V466.8M772.8 456.8V468.1M773.3 456.3V469.2M773.8 456.9V467.4M774.3 454.4V466.3M774.8 455.4V467.5M775.3 456.2V467.1M775.8 454.8V465.7M776.3 455.7V468.1M776.8 453.6V468.0M777.3 454.0V464.9M777.8 453.5V469.1M778.3 454.7V464.7M778.8 451.4V465.9M779.3 452.7V466.4M779.8 454.9V467.9M780.3 454.7V465.2M780.8 455.9V465.9M781.3 455.2V467.3M781.8 451.1V467.2M782.3 456.1V466.6M782.8 453.2V466.5M783.3 456.5V466.3M783.8 456.3V465.8M784.3 455.4V465.5M784.8 455.1V467.4M785.3 455.0V466.7M785.8 451.2V466.9M786.3 455.3V467.8M786.8 451.9V465.1M787.3 454.5V465.1M787.8 455.2V466.0M788.3 453.8V469.5M788.8 454.1V465.9M789.3 453.5V464.0M789.8 453.8V464.2M790.3 454.0V463.6M790.8 453.5V463.2M791.3 452.8V464.4M791.8 453.1V467.1M792.3 449.5V463.6M792.8 452.0V464.9M793.3 447.5V466.5M793.8 453.0V463.2M794.3 451.3V464.4M794.8 453.5V468.1M795.3 453.7V463.5M795.8 452.4V464.2M796.3 451.2V464.4M796.8 453.3V468.7M797.3 452.8V465.3M797.8 455.6V465.0M798.3 455.6V466.5M798.8 454.8V468.6M799.3 455.2V477.0M799.8 452.2V471.1M800.3 454.3V469.0M800.8 455.4V467.5M801.3 455.4V467.0M801.8 454.5V470.5M802.3 439.2V465.4M802.8 454.7V465.3M803.3 454.7V464.9M803.8 454.0V466.9M804.3 454.2V469.0M804.8 454.6V464.6M805.3 452.9V464.6M805.8 453.7V465.6M806.3 453.4V463.4M806.8 452.0V463.7M807.3 451.4V464.1M807.8 445.6V467.0M808.3 452.5V462.5M808.8 450.9V466.6M809.3 447.7V462.6M809.8 452.5V465.1M810.3 446.3V464.3M810.8 452.9V465.1M811.3 450.5V464.3M811.8 452.2V464.5M812.3 452.6V465.0M812.8 452.3V462.1M813.3 447.6V462.5M813.8 452.1V466.9M814.3 446.6V461.9M814.8 452.1V463.4M815.3 450.7V461.9M815.8 451.4V462.0M816.3 449.9V462.4M816.8 452.1V464.0M817.3 451.7V464.2M817.8 451.7V462.2M818.3 450.9V465.2M818.8 450.8V463.8M819.3 451.4V465.6M819.8 450.0V463.6M820.3 451.3V461.8M820.8 450.0V465.0M821.3 451.3V461.5M821.8 448.1V463.0M822.3 449.6V461.6M822.8 446.7V463.1M823.3 450.8V461.1M823.8 445.7V460.3M824.3 450.9V465.0M824.8 450.2V462.4M825.3 451.5V462.0M825.8 451.3V461.0M826.3 450.6V467.5M826.8 449.6V463.5M827.3 451.3V465.9M827.8 451.4V462.2M828.3 446.1V465.5M828.8 451.6V463.9M829.3 451.6V466.6M829.8 450.7V461.0M830.3 450.4V462.5M830.8 448.5V464.6M831.3 450.6V461.2M831.8 450.2V462.2M832.3 448.9V465.3M832.8 448.9V459.1M833.3 442.6V459.5M833.8 449.2V459.2M834.3 448.5V459.9M834.8 448.9V461.8M835.3 447.3V462.3M835.8 449.2V459.5M836.3 447.1V460.1M836.8 446.3V459.0M837.3 449.4V462.2M837.8 449.4V464.0M838.3 448.4V459.8M838.8 447.3V461.9M839.3 448.6V458.4M839.8 448.7V463.6M840.3 443.8V458.5M840.8 447.2V459.7M841.3 446.0V460.6M841.8 447.3V457.8M842.3 446.2V459.2M842.8 442.2V457.8M843.3 446.8V457.2M843.8 438.5V458.8M844.3 446.6V459.0M844.8 446.7V457.7M845.3 445.0V457.7M845.8 445.9V457.4M846.3 447.3V456.9M846.8 447.1V458.4M847.3 444.5V457.4M847.8 447.0V456.6M848.3 446.8V457.3M848.8 446.1V456.5M849.3 446.1V457.6M849.8 446.1V456.7M850.3 445.6V457.2M850.8 446.1V456.4M851.3 442.4V456.1M851.8 446.1V455.5M852.3 445.0V456.0M852.8 445.2V456.7M853.3 444.3V455.3M853.8 441.6V462.5M854.3 445.7V458.2M854.8 445.2V457.1M855.3 446.5V457.2M855.8 447.3V457.6M856.3 442.8V458.6M856.8 441.8V459.0M857.3 446.1V459.1M857.8 448.2V460.3M858.3 448.2V458.1M858.8 447.5V458.3M859.3 447.3V458.3M859.8 446.9V460.3M860.3 447.0V457.2M860.8 443.4V459.2M861.3 446.8V456.2M861.8 446.4V456.3M862.3 443.0V459.5M862.8 445.2V459.4M863.3 442.8V459.3M863.8 445.7V457.0M864.3 445.5V457.5M864.8 445.5V455.8M865.3 442.0V456.0M865.8 438.7V457.8M866.3 437.9V456.0M866.8 445.6V457.5M867.3 444.8V456.1M867.8 442.9V457.3M868.3 445.9V456.7M868.8 445.4V456.0M869.3 445.8V461.7M869.8 443.2V456.6M870.3 444.6V456.7M870.8 445.4V455.8M871.3 445.4V457.3M871.8 443.7V457.1M872.3 443.4V456.3M872.8 442.9V456.6M873.3 444.0V454.8M873.8 444.6V454.1M874.3 443.5V456.5M874.8 443.9V456.9M875.3 444.0V456.2M875.8 442.6V455.4M876.3 441.6V453.6M876.8 443.9V454.9M877.3 440.2V453.7M877.8 443.5V453.0" stroke="#03a3cd" stroke-width="1.2"/>
<path d="M129.50 530.0 130.50 527.0 132.00 533.0 133.80 518.8 135.20 530.0 137.60 523.7 146.30 543.4 147.20 524.0 148.50 543.0 153.50 533.8 161.00 545.8 161.20 532.3 161.60 545.3 173.70 523.7 177.60 529.5 179.90 510.2 180.60 535.2 184.70 526.5 193.60 542.3 193.90 504.5 194.40 542.3 201.40 532.3 210.20 545.3 210.40 531.8 210.80 545.3 225.80 510.7 239.70 544.3 239.90 531.3 240.30 544.3 246.60 539.0 248.00 529.4 249.00 537.0 251.90 533.8 258.60 545.3 258.80 522.2 259.20 545.3 270.20 527.5 273.60 531.0 274.20 516.9 274.60 532.8 277.30 527.5 285.00 543.8 285.90 532.8 287.40 543.0 297.20 521.7 309.30 546.2 309.50 421.3 309.80 546.2 321.00 521.7 331.10 543.4 332.40 534.2 333.00 543.0 340.75 527.0 343.80 532.0 344.30 516.4 344.80 532.8 348.30 527.5 358.00 545.3 358.40 521.7 358.80 545.3 366.60 532.8 369.20 538.0 371.10 529.9 372.80 537.6 377.70 531.8 378.60 543.4 393.00 510.7 407.00 545.3 407.50 531.3 407.90 545.3 417.60 530.4 424.50 543.4 424.80 503.0 425.20 543.4 433.80 525.6 438.30 535.2 438.60 510.7 439.00 535.2 445.80 522.2 456.70 546.2 456.90 532.3 457.30 546.2 464.60 533.8 470.30 543.4 471.00 525.6 471.50 543.0 481.40 525.1 485.40 532.8 485.70 518.8 486.10 532.8 489.00 529.9 493.20 539.5 493.60 520.3 494.00 539.5 498.10 532.8 506.10 545.3 506.30 521.7 506.70 545.3 512.00 537.6 516.60 543.4 516.80 527.0 517.20 543.4 527.90 523.2 534.40 538.6 534.60 514.0 535.00 538.6 542.80 523.2 555.10 545.3 555.80 528.5 556.20 545.3 559.60 538.6 563.00 531.8 563.60 543.4 571.00 530.4 575.70 539.0 575.90 515.5 576.30 539.0 582.60 527.5 585.80 535.2 586.00 524.1 588.50 533.0 590.80 525.6 593.00 534.0 595.10 527.0 604.20 546.2 605.70 536.2 610.00 543.4 617.50 538.0 617.70 529.9 618.00 538.0 623.50 529.0 624.50 535.7 633.00 516.4 633.50 526.0 639.50 511.8 653.80 545.5 657.10 542.4 660.10 536.9 663.10 530.6 666.10 522.9 668.10 516.7 670.10 509.2 672.10 499.9 673.60 491.0 675.10 479.2 676.10 468.5 677.10 453.5 677.70 440.2 678.20 423.9 678.60 402.1 678.85 376.4 679.00 342.6 679.10 255.4 679.20 342.6 679.35 376.4 679.60 402.1 680.00 423.9 680.50 440.2 681.10 453.5 682.10 468.5 683.10 479.2 684.60 491.0 686.10 499.9 688.10 509.2 690.10 516.7 692.10 522.9 695.10 530.6 698.10 536.9 701.10 542.4 703.40 545.5 719.20 511.2 724.20 528.0 725.60 516.9 726.60 526.0 731.90 532.3 734.60 534.2 734.80 529.9 735.20 534.2 740.30 538.0 740.50 529.4 740.90 538.0 743.40 536.0 746.80 543.4 748.20 539.0 749.70 543.0 752.70 544.8 753.00 535.7 753.40 544.8 763.10 527.0 766.50 531.3 770.30 524.6 772.30 533.8 775.60 528.9 781.00 539.0 781.30 514.5 781.60 539.0 786.60 531.8 793.60 544.3 794.30 531.8 794.80 544.0 797.60 540.5 801.80 545.8 802.00 529.4 802.40 545.8 814.50 521.7 823.00 538.6 823.30 514.0 823.60 538.6 831.20 523.0 840.10 543.4 840.20 527.5 840.50 543.4 845.60 537.8 852.00 545.3 851.80 520.8 852.40 545.3 859.40 531.8 863.50 537.6 863.75 520.8 864.10 537.6 869.50 528.5 871.90 532.8 872.90 518.8 873.50 532.0 877.20 525.1" stroke="#f58b1f" stroke-width="3.5"/>
<path d="M129.50 473.3 130.50 482.0 131.10 486.5 131.50 489.3 132.20 493.7 132.50 495.5 133.10 498.8 133.50 500.9 134.50 505.7 135.20 508.7 135.50 510.0 136.10 512.4 136.50 513.9 137.20 516.4 137.50 517.5 138.50 520.8 139.10 522.6 139.20 522.9 139.50 523.8 140.20 525.9 140.50 526.7 141.20 528.6 141.50 529.4 141.70 529.9 142.20 531.2M143.08 442.7 143.02 460.0 142.90 481.3 142.90 481.7 142.60 510.8 142.50 517.4 142.20 531.2M143.08 442.7 143.20 442.7 143.32 442.7 143.38 460.0 143.50 481.3 143.50 481.7 143.80 510.8 144.20 532.6M162.00 295.3 161.93 295.5 161.90 312.8 161.83 334.3 161.70 358.8 161.50 380.6 161.40 388.3 161.00 410.1 160.50 427.4 160.00 439.7 159.50 449.2 159.00 457.0 158.50 463.5 158.00 469.2 157.50 474.3 157.20 477.0 156.50 482.8 156.00 486.5 155.50 489.9 154.50 496.0 154.20 497.7 154.00 498.8 153.50 501.4 152.50 506.1 151.50 510.4 151.20 511.6 151.00 512.4 150.50 514.3 149.50 517.8 149.20 518.8 148.50 521.1 148.00 522.6 147.50 524.1 147.20 525.0 146.50 527.0 146.20 527.8 145.50 529.6 145.20 530.4 144.70 531.7 144.50 532.2 144.20 532.6M162.00 295.3 162.07 295.5 162.10 312.8 162.17 334.3 162.30 358.8 162.50 380.6 162.60 388.3 163.00 410.1 163.50 427.4 164.00 439.7 164.50 449.2 165.00 457.0 165.50 463.5 166.00 469.2 166.50 474.3 167.50 482.8 168.00 486.5 168.50 489.9 169.00 493.1 169.50 496.0 170.00 498.8 170.50 501.4 171.50 506.1 172.00 508.3 172.50 510.4 173.00 512.4 173.50 514.3 174.00 516.1 174.50 517.8 175.50 521.1 176.00 522.6 176.50 524.1 177.00 525.6 177.50 527.0 178.00 528.3 178.50 529.6 179.00 530.9M179.84 453.5 179.77 470.7 179.70 481.3 179.61 492.6 179.50 503.1 179.40 510.8 179.00 530.9M179.84 453.5 180.00 453.5 180.16 453.5 180.23 470.7 180.30 481.3 180.39 492.6 180.50 503.1 180.60 510.8 181.00 530.3M197.71 275.0 197.69 292.2 197.65 314.0 197.50 351.0 197.45 358.8 197.15 388.3 196.75 410.1 196.50 419.6 196.25 427.4 195.75 439.7 195.50 444.7 194.75 457.0 194.50 460.4 194.00 466.5 193.75 469.2 193.50 471.8 192.50 480.8 191.75 486.5 191.50 488.3 191.00 491.5 190.50 494.6 189.75 498.8 189.50 500.1 188.50 505.0 188.00 507.2 187.50 509.4 186.75 512.4 186.50 513.3 186.00 515.2 185.50 517.0 184.50 520.3 184.00 521.9 183.75 522.6 183.50 523.4 183.00 524.9 182.50 526.3 182.00 527.7 181.50 529.0 181.00 530.3M197.71 275.0 197.75 275.0 197.79 275.0 197.81 292.2 197.85 314.0 198.05 358.8 198.35 388.3 198.50 397.9 198.75 410.1 199.25 427.4 199.50 434.0 199.75 439.7 200.50 453.3 200.75 457.0 201.50 466.5 201.75 469.2 202.50 476.6 203.50 484.7 203.75 486.5 204.50 491.5 205.50 497.4 205.75 498.8 206.50 502.6 207.50 507.2 208.50 511.4 208.75 512.4 209.50 515.2 210.50 518.7 211.50 521.9 211.75 522.6 212.50 524.9 213.50 527.7 214.50 530.3 215.00 531.5 215.50 532.6M216.33 457.9 216.24 475.2 216.20 481.3 216.07 496.9 215.90 510.8 215.50 532.6M216.33 457.9 216.50 457.9 216.67 457.9 216.76 475.2 216.80 481.3 216.93 496.9 217.10 510.8 217.50 532.6M235.20 256.0 235.17 256.1 235.16 272.9 235.13 294.9 234.90 358.8 234.60 388.3 234.50 394.9 234.20 410.1 233.70 427.4 233.50 432.7 233.20 439.7 232.50 452.5 232.20 457.0 231.50 465.9 231.20 469.2 230.50 476.1 229.50 484.3 229.20 486.5 228.50 491.2 227.50 497.2 227.20 498.8 226.50 502.4 225.50 507.0 224.50 511.2 224.20 512.4 223.50 515.0 222.50 518.5 221.50 521.7 221.20 522.6 220.50 524.7 219.50 527.5 218.50 530.2 218.00 531.4 217.50 532.6M235.20 256.0 235.23 256.1 235.24 272.9 235.27 294.9 235.50 358.8 235.80 388.3 236.20 410.1 236.50 421.3 236.70 427.4 237.20 439.7 237.50 445.6 238.20 457.0 238.50 461.0 238.70 463.5 239.20 469.2 239.50 472.3 240.50 481.2 241.20 486.5 241.50 488.6 241.70 489.9 242.50 494.9 243.20 498.8 243.50 500.4 244.50 505.2 244.70 506.1 245.50 509.6 246.20 512.4 246.50 513.5 246.70 514.3 247.50 517.1 248.50 520.5 248.70 521.1 249.20 522.6 249.50 523.5 249.70 524.1 250.50 526.4 250.70 527.0 251.20 528.3 251.50 529.1 251.70 529.6M252.52 460.0 252.50 464.0 252.43 477.3 252.40 481.3 252.25 499.1 252.10 510.8 251.70 529.6M252.52 460.0 252.70 460.0 252.88 460.0 252.97 477.3 253.00 481.3 253.16 499.1 253.30 510.8 253.50 523.1 253.70 532.6M271.40 265.7 271.37 265.9 271.35 283.2 271.31 305.0 271.10 358.8 270.80 388.3 270.50 405.6 270.40 410.1 269.90 427.4 269.50 437.5 269.40 439.7 268.50 455.5 268.40 457.0 267.50 468.1 267.40 469.2 266.70 476.1 266.50 477.9 265.50 485.8 265.40 486.5 264.50 492.5 263.70 497.2 263.50 498.2 263.40 498.8 262.50 503.3 261.50 507.9 260.70 511.2 260.50 512.0 260.40 512.4 259.50 515.7 258.70 518.5 258.50 519.2 257.50 522.3 257.40 522.6 256.70 524.7 256.50 525.3 255.70 527.5 255.50 528.1 254.70 530.2 254.50 530.7 254.20 531.4 253.70 532.6M271.40 265.7 271.43 265.9 271.45 283.2 271.49 305.0 271.50 311.9 271.70 358.8 272.00 388.3 272.40 410.1 272.50 414.2 272.90 427.4 273.40 439.7 273.50 441.8 274.40 457.0 274.50 458.4 275.40 469.2 275.50 470.3 276.30 477.9 276.50 479.6 277.40 486.5 277.50 487.2 278.50 493.7 279.30 498.2 279.40 498.8 279.50 499.3 280.50 504.3 281.50 508.7 282.30 512.0 282.40 512.4 282.50 512.7 283.50 516.4 284.30 519.2 284.50 519.8 285.40 522.6 285.50 522.9 286.30 525.3 286.50 525.9 287.30 528.1 287.50 528.6 288.30 530.7 288.50 531.2 288.80 531.9 289.30 532.6M290.30 455.7 290.13 455.8 290.05 473.0 290.00 481.3 289.89 494.8 289.70 510.8 289.50 523.1 289.30 532.6M290.30 455.7 290.46 455.8 290.50 464.0 290.55 473.0 290.60 481.3 290.71 494.8 290.90 510.8 291.30 532.2M308.74 289.5 308.71 307.0 308.65 328.7 308.50 358.8 308.20 388.3 307.80 410.1 307.50 421.3 307.30 427.4 306.80 439.7 306.50 445.6 305.80 457.0 305.50 461.0 304.80 469.2 304.50 472.3 304.30 474.3 303.50 481.2 302.80 486.5 302.50 488.6 301.50 494.9 301.30 496.0 300.80 498.8 300.50 500.4 299.50 505.2 298.50 509.6 298.30 510.4 297.80 512.4 297.50 513.5 296.50 517.1 296.30 517.8 295.50 520.5 294.80 522.6 294.50 523.5 294.30 524.1 293.50 526.4 293.30 527.0 292.50 529.1 292.30 529.6 291.80 530.9 291.50 531.7 291.30 532.2M308.74 289.5 308.80 289.5 308.86 289.5 308.89 307.0 308.95 328.7 309.10 358.8 309.40 388.3 309.50 394.9 309.80 410.1 310.30 427.4 310.50 432.7 310.80 439.7 311.50 452.5 311.80 457.0 312.50 465.9 312.80 469.2 313.50 476.1 313.60 477.0 314.50 484.3 314.80 486.5 315.50 491.2 316.50 497.2 316.60 497.7 316.80 498.8 317.50 502.4 318.50 507.0 319.50 511.2 319.60 511.6 319.80 512.4 320.50 515.0 321.50 518.5 321.60 518.8 322.50 521.7 322.80 522.6 323.50 524.7 323.60 525.0 324.50 527.5 324.60 527.8 325.50 530.2 325.60 530.4 326.10 531.7 326.50 532.6M327.50 442.5 327.48 442.6 327.42 459.7 327.30 481.3 327.30 481.6 327.00 510.8 326.60 532.6 326.50 532.6M327.50 442.5 327.60 442.5 327.72 442.6 327.78 459.7 327.90 481.3 327.90 481.6 328.20 510.8 328.50 528.1 328.60 531.9M346.00 302.7 345.92 303.0 345.88 320.1 345.80 341.7 345.70 358.8 345.50 380.6 345.40 388.3 345.00 410.1 344.50 427.4 344.00 439.7 343.50 449.2 343.00 457.0 342.50 463.5 342.00 469.2 341.60 473.3 341.50 474.3 340.50 482.8 340.00 486.5 339.50 489.9 338.60 495.5 338.50 496.0 338.00 498.8 337.50 501.4 336.50 506.1 335.60 510.0 335.50 510.4 335.00 512.4 334.50 514.3 333.60 517.5 333.50 517.8 332.50 521.1 332.00 522.6 331.60 523.8 331.50 524.1 330.60 526.7 330.50 527.0 329.60 529.4 329.50 529.6 329.10 530.7 328.60 531.9M346.00 302.7 346.08 303.0 346.12 320.1 346.20 341.7 346.30 358.8 346.50 380.6 346.60 388.3 347.00 410.1 347.50 427.4 348.00 439.7 348.50 449.2 349.00 457.0 349.50 463.5 350.00 469.2 350.50 474.3 350.90 477.9 351.50 482.8 352.00 486.5 352.50 489.9 353.50 496.0 353.90 498.2 354.00 498.8 354.50 501.4 355.50 506.1 356.50 510.4 356.90 512.0 357.00 512.4 357.50 514.3 358.50 517.8 358.90 519.2 359.50 521.1 360.00 522.6 360.50 524.1 360.90 525.3 361.50 527.0 361.90 528.1 362.50 529.6 362.90 530.7 363.40 531.9 363.50 532.2 363.90 532.6M364.90 431.6 364.81 431.8 364.76 448.8 364.67 470.7 364.60 481.3 364.50 493.6 364.30 510.8 363.90 532.6M364.90 431.6 364.99 431.8 365.04 448.8 365.13 470.7 365.20 481.3 365.50 510.8 365.90 532.2M383.30 314.2 383.24 331.4 383.14 353.3 383.10 358.8 382.80 388.3 382.50 405.6 382.40 410.1 381.90 427.4 381.50 437.5 381.40 439.7 380.50 455.5 380.40 457.0 379.50 468.1 379.40 469.2 378.90 474.3 378.50 477.9 377.50 485.8 377.40 486.5 376.50 492.5 375.90 496.0 375.50 498.2 375.40 498.8 374.50 503.3 373.50 507.9 372.90 510.4 372.50 512.0 372.40 512.4 371.50 515.7 370.90 517.8 370.50 519.2 369.50 522.3 369.40 522.6 368.90 524.1 368.50 525.3 367.90 527.0 367.50 528.1 366.90 529.6 366.50 530.7 366.40 530.9 365.90 532.2M383.30 314.2 383.40 314.2 383.50 314.2 383.50 314.2 383.56 331.4 383.66 353.3 383.70 358.8 384.00 388.3 384.40 410.1 384.50 414.2 384.90 427.4 385.40 439.7 385.50 441.8 386.40 457.0 386.50 458.4 387.40 469.2 387.50 470.3 388.40 478.7 388.50 479.6 389.40 486.5 389.50 487.2 390.50 493.7 391.40 498.8 391.50 499.3 392.50 504.3 393.50 508.7 394.40 512.4 394.50 512.7 395.50 516.4 396.40 519.5 396.50 519.8 397.40 522.6 397.50 522.9 398.40 525.6 398.50 525.9 399.40 528.3 399.50 528.6 400.40 530.9 400.50 531.2 400.90 532.2 401.40 532.6M402.34 414.9 402.31 432.3 402.24 454.0 402.10 481.3 401.80 510.8 401.50 528.1 401.40 532.6M402.34 414.9 402.40 414.9 402.46 414.9 402.50 432.3 402.50 434.5 402.56 454.0 402.70 481.3 403.00 510.8 403.40 529.9M419.88 318.3 419.83 335.6 419.71 357.3 419.70 358.8 419.50 380.6 419.40 388.3 419.00 410.1 418.50 427.4 418.00 439.7 417.50 449.2 417.00 457.0 416.50 463.5 416.40 464.7 416.00 469.2 415.50 474.3 414.50 482.8 414.00 486.5 413.50 489.9 413.40 490.6 412.50 496.0 412.00 498.8 411.50 501.4 410.50 506.1 410.40 506.6 409.50 510.4 409.00 512.4 408.50 514.3 408.40 514.6 407.50 517.8 406.50 521.1 406.40 521.4 406.00 522.6 405.50 524.1 405.40 524.4 404.50 527.0 404.40 527.3 403.90 528.6 403.50 529.6 403.40 529.9M419.88 318.3 420.00 318.3 420.12 318.3 420.17 335.6 420.29 357.3 420.30 358.8 420.50 380.6 420.60 388.3 421.00 410.1 421.50 427.4 422.00 439.7 422.50 449.2 423.00 457.0 423.50 463.5 424.00 469.2 424.20 471.3 424.50 474.3 425.50 482.8 426.00 486.5 426.50 489.9 427.20 494.3 427.50 496.0 428.00 498.8 428.50 501.4 429.50 506.1 430.20 509.1 430.50 510.4 431.00 512.4 431.50 514.3 432.20 516.8 432.50 517.8 433.50 521.1 434.00 522.6 434.20 523.2 434.50 524.1 435.20 526.2 435.50 527.0 436.20 528.9 436.50 529.6 436.70 530.2 437.20 531.4M438.20 376.9 438.17 377.0 438.16 394.3 438.13 416.1 437.90 481.3 437.60 510.8 437.50 517.4 437.20 531.4M438.20 376.9 438.23 377.0 438.24 394.3 438.26 416.1 438.50 481.3 438.80 510.8 439.20 532.6M456.86 326.6 456.79 344.0 456.70 358.8 456.65 365.7 456.50 380.6 456.40 388.3 456.00 410.1 455.50 427.4 455.00 439.7 454.50 449.2 454.00 457.0 453.50 463.5 453.00 469.2 452.50 474.3 452.20 477.0 451.50 482.8 451.00 486.5 450.50 489.9 449.50 496.0 449.20 497.7 449.00 498.8 448.50 501.4 447.50 506.1 446.50 510.4 446.20 511.6 446.00 512.4 445.50 514.3 444.50 517.8 444.20 518.8 443.50 521.1 443.00 522.6 442.50 524.1 442.20 525.0 441.50 527.0 441.20 527.8 440.50 529.6 440.20 530.4 439.70 531.7 439.50 532.2 439.20 532.6M456.86 326.6 457.00 326.6 457.14 326.6 457.21 344.0 457.30 358.8 457.35 365.7 457.50 380.6 457.60 388.3 458.00 410.1 458.50 427.4 459.00 439.7 459.50 449.2 460.00 457.0 460.50 463.5 461.00 469.2 461.50 474.3 461.70 476.1 462.50 482.8 463.00 486.5 463.50 489.9 464.50 496.0 464.70 497.2 465.00 498.8 465.50 501.4 466.50 506.1 467.50 510.4 467.70 511.2 468.00 512.4 468.50 514.3 469.50 517.8 469.70 518.5 470.50 521.1 471.00 522.6 471.50 524.1 471.70 524.7 472.50 527.0 472.70 527.5 473.50 529.6 473.70 530.2 474.20 531.4 474.50 532.2 474.70 532.6M475.67 386.5 475.65 404.0 475.62 425.5 475.50 464.0 475.40 481.3 475.10 510.8 474.70 532.6M475.67 386.5 475.70 386.5 475.73 386.5 475.75 404.0 475.78 425.5 476.00 481.3 476.30 510.8 476.50 523.1 476.70 531.7M493.88 318.3 493.83 335.6 493.71 357.3 493.70 358.8 493.50 380.6 493.40 388.3 493.00 410.1 492.50 427.4 492.00 439.7 491.50 449.2 491.00 457.0 490.50 463.5 490.00 469.2 489.70 472.3 489.50 474.3 488.50 482.8 488.00 486.5 487.50 489.9 486.70 494.9 486.50 496.0 486.00 498.8 485.50 501.4 484.50 506.1 483.70 509.6 483.50 510.4 483.00 512.4 482.50 514.3 481.70 517.1 481.50 517.8 480.50 521.1 480.00 522.6 479.70 523.5 479.50 524.1 478.70 526.4 478.50 527.0 477.70 529.1 477.50 529.6 477.20 530.4 476.70 531.7M493.88 318.3 494.00 318.3 494.12 318.3 494.17 335.6 494.29 357.3 494.30 358.8 494.50 380.6 494.60 388.3 495.00 410.1 495.50 427.4 496.00 439.7 496.50 449.2 497.00 457.0 497.50 463.5 498.00 469.2 498.50 474.3 499.50 482.8 500.00 486.5 500.50 489.9 501.00 493.1 501.50 496.0 502.00 498.8 502.50 501.4 503.50 506.1 504.00 508.3 504.50 510.4 505.00 512.4 505.50 514.3 506.00 516.1 506.50 517.8 507.50 521.1 508.00 522.6 508.50 524.1 509.00 525.6 509.50 527.0 510.00 528.3 510.50 529.6 511.00 530.9M512.00 421.0 511.93 421.0 511.89 438.1 511.82 460.0 511.70 481.3 511.50 503.1 511.40 510.8 511.00 530.9M512.00 421.0 512.07 421.0 512.11 438.1 512.18 460.0 512.30 481.3 512.50 503.1 512.60 510.8 513.00 532.6M530.81 308.0 530.76 325.4 530.67 347.1 530.60 358.8 530.50 371.1 530.30 388.3 529.90 410.1 529.50 424.5 529.40 427.4 528.90 439.7 528.50 447.4 527.90 457.0 527.50 462.3 526.90 469.2 526.50 473.3 526.00 477.9 525.50 482.0 524.90 486.5 524.50 489.3 523.50 495.5 523.00 498.2 522.90 498.8 522.50 500.9 521.50 505.7 520.50 510.0 520.00 512.0 519.90 512.4 519.50 513.9 518.50 517.5 518.00 519.2 517.50 520.8 516.90 522.6 516.50 523.8 516.00 525.3 515.50 526.7 515.00 528.1 514.50 529.4 514.00 530.7 513.50 531.9 513.00 532.6M530.81 308.0 530.90 308.0 530.99 308.0 531.04 325.4 531.13 347.1 531.20 358.8 531.50 388.3 531.90 410.1 532.40 427.4 532.50 430.2 532.90 439.7 533.50 450.9 533.90 457.0 534.50 464.7 534.80 468.1 534.90 469.2 535.50 475.2 536.50 483.6 536.90 486.5 537.50 490.6 537.80 492.5 538.50 496.6 538.90 498.8 539.50 501.9 540.50 506.6 540.80 507.9 541.50 510.8 541.90 512.4 542.50 514.6 542.80 515.7 543.50 518.2 544.50 521.4 544.80 522.3 544.90 522.6 545.50 524.4 545.80 525.3 546.50 527.3 546.80 528.1 547.30 529.4 547.50 529.9 547.80 530.7M548.80 434.8 548.70 434.9 548.65 452.0 548.55 473.9 548.50 481.3 548.20 510.8 547.80 530.7M548.80 434.8 548.90 434.9 548.95 452.0 549.05 473.9 549.10 481.3 549.40 510.8 549.50 517.4 549.80 532.6 550.30 532.6M568.00 297.7 567.93 297.9 567.89 314.8 567.82 336.8 567.70 358.8 567.50 380.6 567.40 388.3 567.00 410.1 566.50 427.4 566.00 439.7 565.50 449.2 565.00 457.0 564.50 463.5 564.00 469.2 563.50 474.3 562.80 480.4 562.50 482.8 562.00 486.5 561.50 489.9 560.50 496.0 560.00 498.8 559.80 499.8 559.50 501.4 558.50 506.1 557.50 510.4 557.00 512.4 556.80 513.1 556.50 514.3 555.50 517.8 554.80 520.1 554.50 521.1 554.00 522.6 553.50 524.1 552.80 526.2 552.50 527.0 551.80 528.9 551.50 529.6 550.80 531.4 550.50 532.2 550.30 532.6M568.00 297.7 568.07 297.9 568.11 314.8 568.18 336.8 568.30 358.8 568.50 380.6 568.60 388.3 569.00 410.1 569.50 427.4 570.00 439.7 570.50 449.2 571.00 457.0 571.50 463.5 572.00 469.2 572.50 474.3 572.80 477.0 573.50 482.8 574.00 486.5 574.50 489.9 575.50 496.0 575.80 497.7 576.00 498.8 576.50 501.4 577.50 506.1 578.50 510.4 578.80 511.6 579.00 512.4 579.50 514.3 580.50 517.8 580.80 518.8 581.50 521.1 582.00 522.6 582.50 524.1 582.80 525.0 583.50 527.0 583.80 527.8 584.50 529.6 584.80 530.4 585.30 531.7 585.50 532.2 585.80 532.6M586.67 445.7 586.61 462.9 586.50 481.3 586.48 484.7 586.20 510.8 585.80 532.6M586.67 445.7 586.80 445.7 586.93 445.7 587.00 462.9 587.10 481.3 587.12 484.7 587.40 510.8 587.50 517.4 587.80 532.6 588.30 532.6M605.95 282.5 605.92 299.7 605.88 321.5 605.70 358.8 605.50 380.6 605.40 388.3 605.00 410.1 604.50 427.4 604.00 439.7 603.50 449.2 603.00 457.0 602.50 463.5 602.00 469.2 601.50 474.3 600.80 480.4 600.50 482.8 600.00 486.5 599.50 489.9 598.50 496.0 598.00 498.8 597.80 499.8 597.50 501.4 596.50 506.1 595.50 510.4 595.00 512.4 594.80 513.1 594.50 514.3 593.50 517.8 592.80 520.1 592.50 521.1 592.00 522.6 591.50 524.1 590.80 526.2 590.50 527.0 589.80 528.9 589.50 529.6 588.80 531.4 588.50 532.2 588.30 532.6M605.95 282.5 606.00 282.5 606.05 282.5 606.08 299.7 606.12 321.5 606.30 358.8 606.50 380.6 606.60 388.3 607.00 410.1 607.50 427.4 608.00 439.7 608.50 449.2 609.00 457.0 609.30 461.0 609.50 463.5 610.00 469.2 610.50 474.3 611.50 482.8 612.00 486.5 612.30 488.6 612.50 489.9 613.50 496.0 614.00 498.8 614.50 501.4 615.30 505.2 615.50 506.1 616.50 510.4 617.00 512.4 617.30 513.5 617.50 514.3 618.50 517.8 619.30 520.5 619.50 521.1 620.00 522.6 620.30 523.5 620.50 524.1 621.30 526.4 621.50 527.0 621.80 527.8 622.30 529.1M623.30 462.0 623.11 462.0 623.01 479.3 623.00 481.3 622.82 501.1 622.70 510.8 622.50 523.1 622.30 529.1M623.30 462.0 623.49 462.0 623.50 464.0 623.59 479.3 623.60 481.3 623.78 501.1 623.90 510.8 624.30 532.6 624.50 532.6M642.20 258.5 642.17 259.2 642.16 276.0 642.13 297.3 641.90 358.8 641.60 388.3 641.50 394.9 641.20 410.1 640.70 427.4 640.50 432.7 640.20 439.7 639.50 452.5 639.20 457.0 638.50 465.9 638.20 469.2 637.50 476.1 637.30 477.9 636.50 484.3 636.20 486.5 635.50 491.2 634.50 497.2 634.30 498.2 634.20 498.8 633.50 502.4 632.50 507.0 631.50 511.2 631.30 512.0 631.20 512.4 630.50 515.0 629.50 518.5 629.30 519.2 628.50 521.7 628.20 522.6 627.50 524.7 627.30 525.3 626.50 527.5 626.30 528.1 625.50 530.2 625.30 530.7 624.80 531.9 624.50 532.6M642.20 258.5 642.23 259.2 642.24 276.0 642.27 297.3 642.50 358.8 642.80 388.3 643.20 410.1 643.50 421.3 643.70 427.4 644.20 439.7 644.50 445.6 645.20 457.0 645.50 461.0 646.20 469.2 646.50 472.3 647.50 481.2 648.20 486.5 648.50 488.6 649.20 493.1 649.50 494.9 650.20 498.8 650.50 500.4 651.50 505.2 652.20 508.3 652.50 509.6 653.20 512.4 653.50 513.5 654.20 516.1 654.50 517.1 655.50 520.5 656.20 522.6 656.50 523.5 657.20 525.6 657.50 526.4 658.20 528.3 658.50 529.1 658.70 529.6 659.20 530.9M660.20 462.0 660.01 462.0 659.91 479.3 659.90 481.3 659.72 501.1 659.60 510.8 659.50 517.4 659.20 530.9M660.20 462.0 660.39 462.0 660.49 479.3 660.50 481.3 660.68 501.1 660.80 510.8 661.20 532.6M679.00 256.0 678.97 256.1 678.96 272.9 678.93 294.9 678.70 358.8 678.50 380.6 678.40 388.3 678.00 410.1 677.50 427.4 677.00 439.7 676.50 449.2 676.00 457.0 675.50 463.5 675.00 469.2 674.50 474.3 674.20 477.0 673.50 482.8 673.00 486.5 672.50 489.9 671.50 496.0 671.20 497.7 671.00 498.8 670.50 501.4 669.50 506.1 668.50 510.4 668.20 511.6 668.00 512.4 667.50 514.3 666.50 517.8 666.20 518.8 665.50 521.1 665.00 522.6 664.50 524.1 664.20 525.0 663.50 527.0 663.20 527.8 662.50 529.6 662.20 530.4 661.70 531.7 661.50 532.2 661.20 532.6M679.00 256.0 679.03 256.1 679.04 272.9 679.07 294.9 679.30 358.8 679.50 380.6 679.60 388.3 680.00 410.1 680.50 427.4 681.00 439.7 681.50 449.2 682.00 457.0 682.50 463.5 683.00 469.2 683.10 470.3 683.50 474.3 684.50 482.8 685.00 486.5 685.50 489.9 686.10 493.7 686.50 496.0 687.00 498.8 687.50 501.4 688.50 506.1 689.10 508.7 689.50 510.4 690.00 512.4 690.50 514.3 691.10 516.4 691.50 517.8 692.50 521.1 693.00 522.6 693.10 522.9 693.50 524.1 694.10 525.9 694.50 527.0 695.10 528.6 695.50 529.6 695.60 529.9 696.10 531.2M697.10 462.0 696.91 462.0 696.81 479.3 696.80 481.3 696.62 501.1 696.50 510.8 696.10 531.2M697.10 462.0 697.29 462.0 697.39 479.3 697.40 481.3 697.50 493.6 697.58 501.1 697.70 510.8 698.10 532.6M715.95 279.2 715.93 296.7 715.88 318.3 715.70 358.8 715.50 380.6 715.40 388.3 715.00 410.1 714.50 427.4 714.00 439.7 713.50 449.2 713.00 457.0 712.50 463.5 712.00 469.2 711.50 474.3 711.10 477.9 710.50 482.8 710.00 486.5 709.50 489.9 708.50 496.0 708.10 498.2 708.00 498.8 707.50 501.4 706.50 506.1 705.50 510.4 705.10 512.0 705.00 512.4 704.50 514.3 703.50 517.8 703.10 519.2 702.50 521.1 702.00 522.6 701.50 524.1 701.10 525.3 700.50 527.0 700.10 528.1 699.50 529.6 699.10 530.7 698.60 531.9 698.50 532.2 698.10 532.6M715.95 279.2 716.00 279.2 716.05 279.2 716.07 296.7 716.12 318.3 716.30 358.8 716.50 380.6 716.60 388.3 717.00 410.1 717.50 427.4 718.00 439.7 718.50 449.2 719.00 457.0 719.50 463.5 720.00 469.2 720.50 474.3 721.50 482.8 722.00 486.5 722.50 489.9 723.00 493.1 723.50 496.0 724.00 498.8 724.50 501.4 725.50 506.1 726.00 508.3 726.50 510.4 727.00 512.4 727.50 514.3 728.00 516.1 728.50 517.8 729.50 521.1 730.00 522.6 730.50 524.1 731.00 525.6 731.50 527.0 732.00 528.3 732.50 529.6 733.00 530.9M734.00 462.0 733.81 462.0 733.71 479.3 733.70 481.3 733.52 501.1 733.50 503.1 733.40 510.8 733.00 530.9M734.00 462.0 734.19 462.0 734.29 479.3 734.30 481.3 734.48 501.1 734.50 503.1 734.60 510.8 735.00 532.6M753.00 297.7 752.93 297.9 752.89 314.8 752.82 336.8 752.70 358.8 752.50 380.6 752.40 388.3 752.00 410.1 751.50 427.4 751.00 439.7 750.50 449.2 750.00 457.0 749.50 463.5 749.00 469.2 748.50 474.3 748.00 478.7 747.50 482.8 747.00 486.5 746.50 489.9 745.50 496.0 745.00 498.8 744.50 501.4 743.50 506.1 742.50 510.4 742.00 512.4 741.50 514.3 740.50 517.8 740.00 519.5 739.50 521.1 739.00 522.6 738.50 524.1 738.00 525.6 737.50 527.0 737.00 528.3 736.50 529.6 736.00 530.9 735.50 532.2 735.00 532.6M753.00 297.7 753.07 297.9 753.11 314.8 753.18 336.8 753.30 358.8 753.50 380.6 753.60 388.3 754.00 410.1 754.50 427.4 755.00 439.7 755.50 449.2 756.00 457.0 756.50 463.5 756.70 465.9 757.00 469.2 757.50 474.3 758.50 482.8 759.00 486.5 759.50 489.9 759.70 491.2 760.50 496.0 761.00 498.8 761.50 501.4 762.50 506.1 762.70 507.0 763.50 510.4 764.00 512.4 764.50 514.3 764.70 515.0 765.50 517.8 766.50 521.1 766.70 521.7 767.00 522.6 767.50 524.1 767.70 524.7 768.50 527.0 768.70 527.5 769.20 528.9 769.50 529.6 769.70 530.2M770.60 435.5 770.55 452.9 770.50 464.0 770.44 474.5 770.40 481.3 770.10 510.8 769.70 530.2M770.60 435.5 770.70 435.5 770.80 435.5 770.85 452.9 770.96 474.5 771.00 481.3 771.30 510.8 771.50 523.1 771.70 532.6 772.20 532.9M790.00 309.2 789.91 309.3 789.86 326.6 789.77 348.2 789.70 358.8 789.50 380.6 789.40 388.3 789.00 410.1 788.50 427.4 788.00 439.7 787.50 449.2 787.00 457.0 786.50 463.5 786.00 469.2 785.50 474.3 784.70 481.2 784.50 482.8 784.00 486.5 783.50 489.9 782.50 496.0 782.00 498.8 781.70 500.4 781.50 501.4 780.50 506.1 779.50 510.4 779.00 512.4 778.70 513.5 778.50 514.3 777.50 517.8 776.70 520.5 776.50 521.1 776.00 522.6 775.50 524.1 774.70 526.4 774.50 527.0 773.70 529.1 773.50 529.6 772.70 531.7 772.50 532.2 772.20 532.9M790.00 309.2 790.09 309.3 790.14 326.6 790.23 348.2 790.30 358.8 790.50 380.6 790.60 388.3 791.00 410.1 791.50 427.4 792.00 439.7 792.50 449.2 793.00 457.0 793.30 461.0 793.50 463.5 794.00 469.2 794.50 474.3 795.50 482.8 796.00 486.5 796.30 488.6 796.50 489.9 797.50 496.0 798.00 498.8 798.50 501.4 799.30 505.2 799.50 506.1 800.50 510.4 801.00 512.4 801.30 513.5 801.50 514.3 802.50 517.8 803.30 520.5 803.50 521.1 804.00 522.6 804.30 523.5 804.50 524.1 805.30 526.4 805.50 527.0 805.80 527.8 806.30 529.1M807.30 418.6 807.23 418.6 807.20 435.7 807.13 457.6 807.00 481.3 806.70 510.8 806.50 523.1 806.30 529.1M807.30 418.6 807.37 418.6 807.40 435.7 807.47 457.6 807.50 464.0 807.60 481.3 807.90 510.8 808.30 532.6 808.50 533.4M826.50 316.3 826.39 316.4 826.33 333.6 826.22 355.4 826.20 358.8 825.90 388.3 825.50 410.1 825.00 427.4 824.50 439.7 823.50 457.0 822.50 469.2 821.50 478.7 821.30 480.4 820.50 486.5 819.50 493.1 818.50 498.8 818.30 499.8 817.50 503.8 816.50 508.3 815.50 512.4 815.30 513.1 814.50 516.1 813.50 519.5 813.30 520.1 812.50 522.6 811.50 525.6 811.30 526.2 810.50 528.3 810.30 528.9 809.50 530.9 809.30 531.4 808.80 532.6 808.50 533.4M826.50 316.3 826.61 316.4 826.67 333.6 826.78 355.4 826.80 358.8 827.10 388.3 827.50 410.1 828.00 427.4 828.50 439.7 829.50 457.0 830.50 469.2 831.50 478.7 832.00 482.8 832.50 486.5 833.50 493.1 834.50 498.8 835.00 501.4 835.50 503.8 836.50 508.3 837.50 512.4 838.00 514.3 838.50 516.1 839.50 519.5 840.00 521.1 840.50 522.6 841.50 525.6 842.00 527.0 842.50 528.3 843.00 529.6 843.50 530.9 844.00 532.2 844.50 533.4M846.00 391.9 845.96 392.1 845.95 409.0 845.91 430.9 845.70 481.3 845.50 503.1 845.40 510.8 845.00 532.6 844.50 533.4M846.00 391.9 846.04 392.1 846.05 409.0 846.09 430.9 846.30 481.3 846.50 503.1 846.60 510.8 847.00 528.3M862.86 325.7 862.79 343.0 862.70 358.8 862.65 364.7 862.50 380.6 862.40 388.3 862.00 410.1 861.50 427.4 861.00 439.7 860.50 449.2 860.00 457.0 859.50 463.5 859.00 469.2 858.50 474.3 857.50 482.8 857.00 486.5 856.50 489.9 855.50 496.0 855.00 498.8 854.50 501.4 854.00 503.8 853.50 506.1 852.50 510.4 852.00 512.4 851.50 514.3 850.50 517.8 850.00 519.5 849.50 521.1 849.00 522.6 848.50 524.1 848.00 525.6 847.50 527.0 847.00 528.3M862.86 325.7 863.00 325.7 863.14 325.7 863.21 343.0 863.30 358.8 863.35 364.7 863.50 380.6 863.60 388.3 864.00 410.1 864.50 427.4 865.00 439.7 865.50 449.2 866.00 457.0 866.50 463.5 867.00 469.2 867.50 474.3 867.60 475.2 868.50 482.8 869.00 486.5 869.50 489.9 870.50 496.0 870.60 496.6 871.00 498.8 871.50 501.4 872.50 506.1 873.50 510.4 873.60 510.8 874.00 512.4 874.50 514.3 875.50 517.8 875.60 518.2 876.50 521.1 877.00 522.6 877.50 524.1 877.60 524.4" stroke="#acacac" stroke-width="1.35" stroke-dasharray="4.7 3.8" clip-path="url(#gc)"/>
</g>
<rect x="128" y="20.5" width="751.5" height="597.5" fill="none" stroke="#0d3e6c" stroke-width="3"/>
<g font-size="25" text-anchor="end">
<text x="110" y="30">0</text>
<text x="110" y="114.5">&#8211;20</text>
<text x="110" y="200">&#8211;40</text>
<text x="110" y="285.5">&#8211;60</text>
<text x="110" y="370.5">&#8211;80</text>
<text x="110" y="457.5">&#8211;100</text>
<text x="110" y="542.2">&#8211;120</text>
<text x="110" y="624.5">&#8211;140</text>
</g>
<g font-size="25" text-anchor="middle">
<text x="128" y="659.5">4800</text>
<text x="271.3" y="659.5">5100</text>
<text x="426.3" y="659.5">5400</text>
<text x="577" y="659.5">5700</text>
<text x="728.2" y="659.5">6000</text>
<text x="878" y="659.5">6300</text>
<text x="503" y="710">Output Frequency (MHz)</text>
<text transform="translate(34 323) rotate(-90)" textLength="207.8">Spur Power (dBc)</text>
</g>
<g font-size="25">
<text x="230.2" y="76" textLength="587.6">Measured (Worst of First- and Second-Order IBS)</text>
<text x="230.1" y="116.5" textLength="452">Simulated (Optimized PFD Frequency)</text>
<text x="230.1" y="155.5" textLength="395.3">Simulated (Fixed PFD Frequency)</text>
</g>
<path d="M182.8 68H218.2" stroke="#03a3cd" stroke-width="3.2"/>
<path d="M182.8 108.5H218.2" stroke="#f58b1f" stroke-width="3.2"/>
<path d="M182.8 147H218.2" stroke="#b2b2b2" stroke-width="1.9" stroke-dasharray="5 3.9" stroke-dashoffset="2.4"/>
<text x="844" y="719" textLength="71" lengthAdjust="spacingAndGlyphs" style="font-family:'Liberation Sans',sans-serif;font-weight:normal;fill:#111;font-size:13px">EEChina.com</text>
</svg>
</body></html>
